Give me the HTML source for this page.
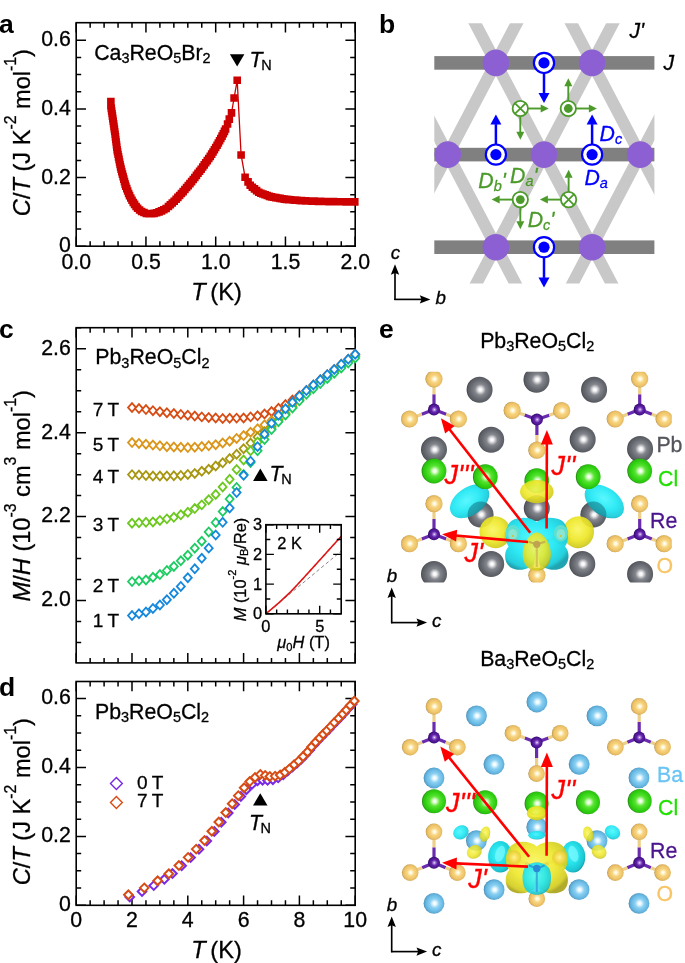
<!DOCTYPE html>
<html><head><meta charset="utf-8"><title>Figure</title>
<style>html,body{margin:0;padding:0;background:#fff}svg{display:block}text{font-family:"Liberation Sans",Arial,Helvetica,sans-serif}</style>
</head><body>
<svg width="685" height="963" viewBox="0 0 685 963">
<rect width="685" height="963" fill="#fff"/>
<g id="panelA">
<clipPath id="clipA"><rect x="76.2" y="22.7" width="285" height="223.5"/></clipPath>
<rect x="76.2" y="22.7" width="279" height="223.5" fill="none" stroke="#000" stroke-width="1.6"/>
<path d="M76.2 246.2v-9.8M76.2 22.7v9.8M145.95 246.2v-9.8M145.95 22.7v9.8M215.7 246.2v-9.8M215.7 22.7v9.8M285.45 246.2v-9.8M285.45 22.7v9.8M355.2 246.2v-9.8M355.2 22.7v9.8M90.15 246.2v-5M90.15 22.7v5M104.1 246.2v-5M104.1 22.7v5M118.05 246.2v-5M118.05 22.7v5M132 246.2v-5M132 22.7v5M159.9 246.2v-5M159.9 22.7v5M173.85 246.2v-5M173.85 22.7v5M187.8 246.2v-5M187.8 22.7v5M201.75 246.2v-5M201.75 22.7v5M229.65 246.2v-5M229.65 22.7v5M243.6 246.2v-5M243.6 22.7v5M257.55 246.2v-5M257.55 22.7v5M271.5 246.2v-5M271.5 22.7v5M299.4 246.2v-5M299.4 22.7v5M313.35 246.2v-5M313.35 22.7v5M327.3 246.2v-5M327.3 22.7v5M341.25 246.2v-5M341.25 22.7v5M76.2 246.2h9.8M355.2 246.2h-9.8M76.2 177.54h9.8M355.2 177.54h-9.8M76.2 108.88h9.8M355.2 108.88h-9.8M76.2 40.22h9.8M355.2 40.22h-9.8M76.2 229.03h5M355.2 229.03h-5M76.2 211.87h5M355.2 211.87h-5M76.2 194.7h5M355.2 194.7h-5M76.2 160.38h5M355.2 160.38h-5M76.2 143.21h5M355.2 143.21h-5M76.2 126.04h5M355.2 126.04h-5M76.2 91.71h5M355.2 91.71h-5M76.2 74.55h5M355.2 74.55h-5M76.2 57.38h5M355.2 57.38h-5" stroke="#000" stroke-width="1.5" fill="none"/>
<path d="M110.89 101.5 L110.89 105.79 L111.28 108.36 L111.66 110.93 L112.05 113.5 L112.43 116.08 L112.81 118.65 L113.2 121.22 L113.58 123.79 L113.97 126.36 L114.35 128.93 L114.73 131.51 L115.12 134.28 L115.46 136.85 L115.8 139.43 L116.13 142.01 L116.47 144.59 L116.81 147.17 L117.15 149.74 L117.53 151.76 L118.04 154.31 L118.55 156.86 L119.06 159.41 L119.57 161.96 L120.08 164.51 L120.59 167.05 L121.11 169.09 L121.78 171.6 L122.45 174.11 L123.13 176.62 L123.8 179.14 L124.48 181.65 L125.15 184.16 L125.82 186.2 L126.75 188.63 L127.68 191.06 L128.61 193.48 L129.54 195.66 L130.78 197.95 L132.02 200.23 L133.25 202.52 L134.58 204.38 L136.11 206.49 L137.63 208.28 L139.59 209.99 L141.56 211.54 L143.95 212.56 L146.34 213.46 L148.92 213.74 L151.51 213.78 L154.07 213.35 L156.63 212.73 L159.07 211.83 L161.51 210.9 L163.82 209.7 L166.12 208.5 L168.43 206.46 L170.35 204.71 L172.27 202.96 L174.19 201.21 L176.12 199.26 L177.87 197.34 L179.63 195.43 L181.39 193.51 L183.15 191.6 L184.91 189.56 L186.58 187.57 L188.25 185.58 L189.92 183.59 L191.59 181.59 L193.26 179.52 L194.84 177.46 L196.42 175.39 L197.99 173.32 L199.57 171.26 L201.15 169.19 L202.73 167 L204.24 164.89 L205.76 162.77 L207.27 160.66 L208.78 158.55 L210.3 156.39 L211.66 154.17 L213.02 151.96 L214.38 149.74 L215.73 147.52 L217.09 145.31 L218.33 143.02 L219.57 140.73 L220.81 138.44 L222.05 136.16 L223.28 133.72 L224.45 131.39 L225.61 129.07 L227.56 123.99 L229.3 119.11 L231.51 112.9 L234.1 98 L237.2 80.21 L241.1 154.99 L245.11 177.2 L248.06 181.84 L250.2 185.19 L252.33 187.19 L254.47 188.89 L256.6 190.6 L258.74 192.31 L260.87 193.18 L263 193.97 L265.14 194.76 L267.27 195.55 L269.41 196.34 L271.54 196.85 L273.68 197.23 L275.81 197.61 L277.94 198 L280.08 198.38 L282.21 198.76 L284.35 199.14 L286.48 199.42 L288.62 199.6 L290.75 199.77 L292.89 199.95 L295.02 200.12 L297.15 200.3 L299.29 200.47 L301.42 200.65 L303.56 200.76 L305.69 200.85 L307.83 200.93 L309.96 201.01 L312.09 201.09 L314.23 201.17 L316.36 201.25 L318.5 201.33 L320.63 201.41 L322.77 201.45 L324.9 201.49 L327.03 201.54 L329.17 201.58 L331.3 201.62 L333.44 201.67 L335.57 201.71 L337.71 201.75 L339.84 201.77 L341.98 201.79 L344.11 201.81 L346.24 201.83 L348.38 201.85 L350.51 201.87 L352.65 201.89 L354.78 201.91" fill="none" stroke="#cc0000" stroke-width="1.3"/>
<path d="M107.09 97.7h7.6v7.6h-7.6zM107.09 101.99h7.6v7.6h-7.6zM107.48 104.56h7.6v7.6h-7.6zM107.86 107.13h7.6v7.6h-7.6zM108.25 109.7h7.6v7.6h-7.6zM108.63 112.28h7.6v7.6h-7.6zM109.01 114.85h7.6v7.6h-7.6zM109.4 117.42h7.6v7.6h-7.6zM109.78 119.99h7.6v7.6h-7.6zM110.17 122.56h7.6v7.6h-7.6zM110.55 125.13h7.6v7.6h-7.6zM110.93 127.71h7.6v7.6h-7.6zM111.32 130.48h7.6v7.6h-7.6zM111.66 133.05h7.6v7.6h-7.6zM112 135.63h7.6v7.6h-7.6zM112.33 138.21h7.6v7.6h-7.6zM112.67 140.79h7.6v7.6h-7.6zM113.01 143.37h7.6v7.6h-7.6zM113.35 145.94h7.6v7.6h-7.6zM113.73 147.96h7.6v7.6h-7.6zM114.24 150.51h7.6v7.6h-7.6zM114.75 153.06h7.6v7.6h-7.6zM115.26 155.61h7.6v7.6h-7.6zM115.77 158.16h7.6v7.6h-7.6zM116.28 160.71h7.6v7.6h-7.6zM116.79 163.25h7.6v7.6h-7.6zM117.31 165.29h7.6v7.6h-7.6zM117.98 167.8h7.6v7.6h-7.6zM118.65 170.31h7.6v7.6h-7.6zM119.33 172.82h7.6v7.6h-7.6zM120 175.34h7.6v7.6h-7.6zM120.68 177.85h7.6v7.6h-7.6zM121.35 180.36h7.6v7.6h-7.6zM122.02 182.4h7.6v7.6h-7.6zM122.95 184.83h7.6v7.6h-7.6zM123.88 187.26h7.6v7.6h-7.6zM124.81 189.68h7.6v7.6h-7.6zM125.74 191.86h7.6v7.6h-7.6zM126.98 194.15h7.6v7.6h-7.6zM128.22 196.43h7.6v7.6h-7.6zM129.45 198.72h7.6v7.6h-7.6zM130.78 200.58h7.6v7.6h-7.6zM132.31 202.69h7.6v7.6h-7.6zM133.83 204.48h7.6v7.6h-7.6zM135.79 206.19h7.6v7.6h-7.6zM137.76 207.74h7.6v7.6h-7.6zM140.15 208.76h7.6v7.6h-7.6zM142.54 209.66h7.6v7.6h-7.6zM145.12 209.94h7.6v7.6h-7.6zM147.71 209.98h7.6v7.6h-7.6zM150.27 209.55h7.6v7.6h-7.6zM152.83 208.93h7.6v7.6h-7.6zM155.27 208.03h7.6v7.6h-7.6zM157.71 207.1h7.6v7.6h-7.6zM160.02 205.9h7.6v7.6h-7.6zM162.32 204.7h7.6v7.6h-7.6zM164.63 202.66h7.6v7.6h-7.6zM166.55 200.91h7.6v7.6h-7.6zM168.47 199.16h7.6v7.6h-7.6zM170.39 197.41h7.6v7.6h-7.6zM172.32 195.46h7.6v7.6h-7.6zM174.07 193.54h7.6v7.6h-7.6zM175.83 191.63h7.6v7.6h-7.6zM177.59 189.71h7.6v7.6h-7.6zM179.35 187.8h7.6v7.6h-7.6zM181.11 185.76h7.6v7.6h-7.6zM182.78 183.77h7.6v7.6h-7.6zM184.45 181.78h7.6v7.6h-7.6zM186.12 179.79h7.6v7.6h-7.6zM187.79 177.79h7.6v7.6h-7.6zM189.46 175.72h7.6v7.6h-7.6zM191.04 173.66h7.6v7.6h-7.6zM192.62 171.59h7.6v7.6h-7.6zM194.19 169.52h7.6v7.6h-7.6zM195.77 167.46h7.6v7.6h-7.6zM197.35 165.39h7.6v7.6h-7.6zM198.93 163.2h7.6v7.6h-7.6zM200.44 161.09h7.6v7.6h-7.6zM201.96 158.97h7.6v7.6h-7.6zM203.47 156.86h7.6v7.6h-7.6zM204.98 154.75h7.6v7.6h-7.6zM206.5 152.59h7.6v7.6h-7.6zM207.86 150.37h7.6v7.6h-7.6zM209.22 148.16h7.6v7.6h-7.6zM210.58 145.94h7.6v7.6h-7.6zM211.93 143.72h7.6v7.6h-7.6zM213.29 141.51h7.6v7.6h-7.6zM214.53 139.22h7.6v7.6h-7.6zM215.77 136.93h7.6v7.6h-7.6zM217.01 134.64h7.6v7.6h-7.6zM218.25 132.36h7.6v7.6h-7.6zM219.48 129.92h7.6v7.6h-7.6zM220.65 127.59h7.6v7.6h-7.6zM221.81 125.27h7.6v7.6h-7.6zM223.76 120.19h7.6v7.6h-7.6zM225.5 115.31h7.6v7.6h-7.6zM227.71 109.1h7.6v7.6h-7.6zM230.3 94.2h7.6v7.6h-7.6zM233.4 76.41h7.6v7.6h-7.6zM237.3 151.19h7.6v7.6h-7.6zM241.31 173.4h7.6v7.6h-7.6zM244.26 178.04h7.6v7.6h-7.6zM246.4 181.39h7.6v7.6h-7.6zM248.53 183.39h7.6v7.6h-7.6zM250.67 185.09h7.6v7.6h-7.6zM252.8 186.8h7.6v7.6h-7.6zM254.94 188.51h7.6v7.6h-7.6zM257.07 189.38h7.6v7.6h-7.6zM259.2 190.17h7.6v7.6h-7.6zM261.34 190.96h7.6v7.6h-7.6zM263.47 191.75h7.6v7.6h-7.6zM265.61 192.54h7.6v7.6h-7.6zM267.74 193.05h7.6v7.6h-7.6zM269.88 193.43h7.6v7.6h-7.6zM272.01 193.81h7.6v7.6h-7.6zM274.14 194.2h7.6v7.6h-7.6zM276.28 194.58h7.6v7.6h-7.6zM278.41 194.96h7.6v7.6h-7.6zM280.55 195.34h7.6v7.6h-7.6zM282.68 195.62h7.6v7.6h-7.6zM284.82 195.8h7.6v7.6h-7.6zM286.95 195.97h7.6v7.6h-7.6zM289.09 196.15h7.6v7.6h-7.6zM291.22 196.32h7.6v7.6h-7.6zM293.35 196.5h7.6v7.6h-7.6zM295.49 196.67h7.6v7.6h-7.6zM297.62 196.85h7.6v7.6h-7.6zM299.76 196.96h7.6v7.6h-7.6zM301.89 197.05h7.6v7.6h-7.6zM304.03 197.13h7.6v7.6h-7.6zM306.16 197.21h7.6v7.6h-7.6zM308.29 197.29h7.6v7.6h-7.6zM310.43 197.37h7.6v7.6h-7.6zM312.56 197.45h7.6v7.6h-7.6zM314.7 197.53h7.6v7.6h-7.6zM316.83 197.61h7.6v7.6h-7.6zM318.97 197.65h7.6v7.6h-7.6zM321.1 197.69h7.6v7.6h-7.6zM323.23 197.74h7.6v7.6h-7.6zM325.37 197.78h7.6v7.6h-7.6zM327.5 197.82h7.6v7.6h-7.6zM329.64 197.87h7.6v7.6h-7.6zM331.77 197.91h7.6v7.6h-7.6zM333.91 197.95h7.6v7.6h-7.6zM336.04 197.97h7.6v7.6h-7.6zM338.18 197.99h7.6v7.6h-7.6zM340.31 198.01h7.6v7.6h-7.6zM342.44 198.03h7.6v7.6h-7.6zM344.58 198.05h7.6v7.6h-7.6zM346.71 198.07h7.6v7.6h-7.6zM348.85 198.09h7.6v7.6h-7.6zM350.98 198.11h7.6v7.6h-7.6z" fill="#cc0000"/>
<text x="76.2" y="268.6" font-size="21.3" text-anchor="middle" fill="#000"  stroke="#000" stroke-width="0.3" xml:space="preserve"><tspan>0.0</tspan></text>
<text x="145.95" y="268.6" font-size="21.3" text-anchor="middle" fill="#000"  stroke="#000" stroke-width="0.3" xml:space="preserve"><tspan>0.5</tspan></text>
<text x="215.7" y="268.6" font-size="21.3" text-anchor="middle" fill="#000"  stroke="#000" stroke-width="0.3" xml:space="preserve"><tspan>1.0</tspan></text>
<text x="285.45" y="268.6" font-size="21.3" text-anchor="middle" fill="#000"  stroke="#000" stroke-width="0.3" xml:space="preserve"><tspan>1.5</tspan></text>
<text x="355.2" y="268.6" font-size="21.3" text-anchor="middle" fill="#000"  stroke="#000" stroke-width="0.3" xml:space="preserve"><tspan>2.0</tspan></text>
<text x="70.8" y="252.2" font-size="21.3" text-anchor="end" fill="#000"  stroke="#000" stroke-width="0.3" xml:space="preserve"><tspan>0</tspan></text>
<text x="70.8" y="183.54" font-size="21.3" text-anchor="end" fill="#000"  stroke="#000" stroke-width="0.3" xml:space="preserve"><tspan>0.2</tspan></text>
<text x="70.8" y="114.88" font-size="21.3" text-anchor="end" fill="#000"  stroke="#000" stroke-width="0.3" xml:space="preserve"><tspan>0.4</tspan></text>
<text x="70.8" y="46.22" font-size="21.3" text-anchor="end" fill="#000"  stroke="#000" stroke-width="0.3" xml:space="preserve"><tspan>0.6</tspan></text>
<text x="216.5" y="300.2" font-size="23.6" text-anchor="middle" fill="#000"  stroke="#000" stroke-width="0.3" xml:space="preserve"><tspan font-style="italic">T</tspan><tspan> (K)</tspan></text>
<text x="0" y="0" transform="translate(29.7,132.6) rotate(-90)" font-size="23.6" text-anchor="middle" fill="#000"  stroke="#000" stroke-width="0.3" xml:space="preserve"><tspan font-style="italic">C</tspan><tspan>/</tspan><tspan font-style="italic">T</tspan><tspan> (J K</tspan><tspan font-size="15.81" dy="-13.69">-2</tspan><tspan dy="13.69"> mol</tspan><tspan font-size="15.81" dy="-13.69">-1</tspan><tspan dy="13.69">)</tspan></text>
<text x="94.2" y="59.9" font-size="21.3" text-anchor="start" fill="#000"  stroke="#000" stroke-width="0.3" xml:space="preserve"><tspan>Ca</tspan><tspan font-size="14.48" dy="3.41">3</tspan><tspan dy="-3.41">ReO</tspan><tspan font-size="14.48" dy="3.41">5</tspan><tspan dy="-3.41">Br</tspan><tspan font-size="14.48" dy="3.41">2</tspan></text>
<path d="M229.9 54.2h14.5l-7.25 12.3z" fill="#000"/>
<text x="249.6" y="66.8" font-size="21.3" text-anchor="start" fill="#000"  stroke="#000" stroke-width="0.3" xml:space="preserve"><tspan font-style="italic">T</tspan><tspan dx="-1.3" font-size="14.48" dy="3.41">N</tspan></text>
<text x="-1.1" y="32.8" font-size="26.5" text-anchor="start" fill="#000" font-weight="bold"  xml:space="preserve"><tspan>a</tspan></text>
</g>
<g id="panelB">
<clipPath id="clipB"><rect x="434.3" y="23.3" width="220.1" height="260.3"/></clipPath>
<path d="M176.04 3.3L333.56 303.6M334.76 3.3L177.24 303.6M272.24 3.3L429.76 303.6M430.96 3.3L273.44 303.6M368.44 3.3L525.96 303.6M527.16 3.3L369.64 303.6M464.64 3.3L622.16 303.6M623.36 3.3L465.84 303.6M560.84 3.3L718.36 303.6M719.56 3.3L562.04 303.6M657.04 3.3L814.56 303.6M815.76 3.3L658.24 303.6M753.24 3.3L910.76 303.6M911.96 3.3L754.44 303.6" stroke="#c8c8c8" stroke-width="12" fill="none" clip-path="url(#clipB)"/>
<rect x="434.3" y="56.1" width="220.1" height="13.6" fill="#808080"/>
<rect x="434.3" y="147.8" width="220.1" height="13.6" fill="#808080"/>
<rect x="434.3" y="240.4" width="220.1" height="13.6" fill="#808080"/>
<circle cx="495.9" cy="62.9" r="13.3" fill="#8c5fd2"/>
<circle cx="592.1" cy="62.9" r="13.3" fill="#8c5fd2"/>
<circle cx="447.8" cy="154.6" r="13.3" fill="#8c5fd2"/>
<circle cx="544" cy="154.6" r="13.3" fill="#8c5fd2"/>
<circle cx="640.2" cy="154.6" r="13.3" fill="#8c5fd2"/>
<circle cx="495.9" cy="247.2" r="13.3" fill="#8c5fd2"/>
<circle cx="592.1" cy="247.2" r="13.3" fill="#8c5fd2"/>
<path d="M544 62.9L544 93.6" stroke="#0000ff" stroke-width="2.5" fill="none"/>
<path d="M544 103.1L538.5 93.1L549.5 93.1z" fill="#0000ff"/>
<circle cx="544" cy="62.9" r="10.1" fill="#fff" stroke="#0000ff" stroke-width="2.2"/>
<circle cx="544" cy="62.9" r="5.6" fill="#0000ff"/>
<path d="M495.9 154.6L495.9 124.1" stroke="#0000ff" stroke-width="2.5" fill="none"/>
<path d="M495.9 114.6L501.4 124.6L490.4 124.6z" fill="#0000ff"/>
<circle cx="495.9" cy="154.6" r="10.1" fill="#fff" stroke="#0000ff" stroke-width="2.2"/>
<circle cx="495.9" cy="154.6" r="5.6" fill="#0000ff"/>
<path d="M592.1 154.6L592.1 124.1" stroke="#0000ff" stroke-width="2.5" fill="none"/>
<path d="M592.1 114.6L597.6 124.6L586.6 124.6z" fill="#0000ff"/>
<circle cx="592.1" cy="154.6" r="10.1" fill="#fff" stroke="#0000ff" stroke-width="2.2"/>
<circle cx="592.1" cy="154.6" r="5.6" fill="#0000ff"/>
<path d="M544 247.2L544 277.9" stroke="#0000ff" stroke-width="2.5" fill="none"/>
<path d="M544 287.4L538.5 277.4L549.5 277.4z" fill="#0000ff"/>
<circle cx="544" cy="247.2" r="10.1" fill="#fff" stroke="#0000ff" stroke-width="2.2"/>
<circle cx="544" cy="247.2" r="5.6" fill="#0000ff"/>
<path d="M520.3 108.5L541.2 108.5" stroke="#4c9a2a" stroke-width="1.9" fill="none"/>
<path d="M548.7 108.5L540.7 112.5L540.7 104.5z" fill="#4c9a2a"/>
<path d="M520.3 108.5L520.3 132.2" stroke="#4c9a2a" stroke-width="1.9" fill="none"/>
<path d="M520.3 139.7L516.3 131.7L524.3 131.7z" fill="#4c9a2a"/>
<circle cx="520.3" cy="108.5" r="7.7" fill="#fff" stroke="#4c9a2a" stroke-width="1.8"/>
<path d="M514.86 103.06L525.74 113.94M514.86 113.94L525.74 103.06" stroke="#4c9a2a" stroke-width="1.8"/>
<path d="M568.3 108.5L589.4 108.5" stroke="#4c9a2a" stroke-width="1.9" fill="none"/>
<path d="M596.9 108.5L588.9 112.5L588.9 104.5z" fill="#4c9a2a"/>
<path d="M568.3 108.5L568.3 85.8" stroke="#4c9a2a" stroke-width="1.9" fill="none"/>
<path d="M568.3 78.3L572.3 86.3L564.3 86.3z" fill="#4c9a2a"/>
<circle cx="568.3" cy="108.5" r="7.7" fill="#fff" stroke="#4c9a2a" stroke-width="1.8"/>
<circle cx="568.3" cy="108.5" r="4.4" fill="#4c9a2a"/>
<path d="M520.3 199.6L499.1 199.6" stroke="#4c9a2a" stroke-width="1.9" fill="none"/>
<path d="M491.6 199.6L499.6 195.6L499.6 203.6z" fill="#4c9a2a"/>
<path d="M520.3 199.6L520.3 221.8" stroke="#4c9a2a" stroke-width="1.9" fill="none"/>
<path d="M520.3 229.3L516.3 221.3L524.3 221.3z" fill="#4c9a2a"/>
<circle cx="520.3" cy="199.6" r="7.7" fill="#fff" stroke="#4c9a2a" stroke-width="1.8"/>
<circle cx="520.3" cy="199.6" r="4.4" fill="#4c9a2a"/>
<path d="M568.6 199.6L547.4 199.6" stroke="#4c9a2a" stroke-width="1.9" fill="none"/>
<path d="M539.9 199.6L547.9 195.6L547.9 203.6z" fill="#4c9a2a"/>
<path d="M568.6 199.6L568.6 177.3" stroke="#4c9a2a" stroke-width="1.9" fill="none"/>
<path d="M568.6 169.8L572.6 177.8L564.6 177.8z" fill="#4c9a2a"/>
<circle cx="568.6" cy="199.6" r="7.7" fill="#fff" stroke="#4c9a2a" stroke-width="1.8"/>
<path d="M563.16 194.16L574.04 205.04M563.16 205.04L574.04 194.16" stroke="#4c9a2a" stroke-width="1.8"/>
<text x="599.6" y="140.5" font-size="21.3" text-anchor="start" fill="#0000ff"  stroke="#0000ff" stroke-width="0.3" xml:space="preserve"><tspan font-style="italic">D</tspan><tspan font-style="italic" font-size="14.48" dy="3.41">c</tspan></text>
<text x="584.4" y="184.5" font-size="21.3" text-anchor="start" fill="#0000ff"  stroke="#0000ff" stroke-width="0.3" xml:space="preserve"><tspan font-style="italic">D</tspan><tspan font-style="italic" font-size="14.48" dy="3.41">a</tspan></text>
<text x="478.3" y="188" font-size="21.3" text-anchor="start" fill="#4c9a2a"  stroke="#4c9a2a" stroke-width="0.3" xml:space="preserve"><tspan font-style="italic">D</tspan><tspan font-style="italic" font-size="14.48" dy="3.41">b</tspan><tspan font-style="italic" dy="-3.41">'</tspan></text>
<text x="510.1" y="182.7" font-size="21.3" text-anchor="start" fill="#4c9a2a"  stroke="#4c9a2a" stroke-width="0.3" xml:space="preserve"><tspan font-style="italic">D</tspan><tspan font-style="italic" font-size="14.48" dy="3.41">a</tspan><tspan font-style="italic" dy="-3.41">'</tspan></text>
<text x="527.7" y="226.9" font-size="21.3" text-anchor="start" fill="#4c9a2a"  stroke="#4c9a2a" stroke-width="0.3" xml:space="preserve"><tspan font-style="italic">D</tspan><tspan font-style="italic" font-size="14.48" dy="3.41">c</tspan><tspan font-style="italic" dy="-3.41">'</tspan></text>
<text x="629.4" y="38" font-size="21.3" text-anchor="start" fill="#000"  stroke="#000" stroke-width="0.3" xml:space="preserve"><tspan font-style="italic">J'</tspan></text>
<text x="663.4" y="69.6" font-size="21.3" text-anchor="start" fill="#000"  stroke="#000" stroke-width="0.3" xml:space="preserve"><tspan font-style="italic">J</tspan></text>
<path d="M395 300.1L395 270.2" stroke="#000" stroke-width="1.65" fill="none"/>
<path d="M395 264.2L399.2 274.8L395 273.1L390.8 274.8z" fill="#000"/>
<path d="M394.3 299.4L424.4 299.4" stroke="#000" stroke-width="1.65" fill="none"/>
<path d="M430.4 299.4L419.8 303.6L421.5 299.4L419.8 295.2z" fill="#000"/>
<text x="395.4" y="259" font-size="18.8" text-anchor="middle" fill="#000"  stroke="#000" stroke-width="0.3" xml:space="preserve"><tspan font-style="italic">c</tspan></text>
<text x="435.4" y="304" font-size="18.8" text-anchor="start" fill="#000"  stroke="#000" stroke-width="0.3" xml:space="preserve"><tspan font-style="italic">b</tspan></text>
<text x="379" y="33.1" font-size="26.5" text-anchor="start" fill="#000" font-weight="bold"  xml:space="preserve"><tspan>b</tspan></text>
</g>
<g id="panelC">
<rect x="76.2" y="327.7" width="279" height="335.2" fill="none" stroke="#000" stroke-width="1.6"/>
<path d="M76.2 662.9v-9.8M76.2 327.7v9.8M132 662.9v-9.8M132 327.7v9.8M187.8 662.9v-9.8M187.8 327.7v9.8M243.6 662.9v-9.8M243.6 327.7v9.8M299.4 662.9v-9.8M299.4 327.7v9.8M355.2 662.9v-9.8M355.2 327.7v9.8M90.15 662.9v-5M90.15 327.7v5M104.1 662.9v-5M104.1 327.7v5M118.05 662.9v-5M118.05 327.7v5M145.95 662.9v-5M145.95 327.7v5M159.9 662.9v-5M159.9 327.7v5M173.85 662.9v-5M173.85 327.7v5M201.75 662.9v-5M201.75 327.7v5M215.7 662.9v-5M215.7 327.7v5M229.65 662.9v-5M229.65 327.7v5M257.55 662.9v-5M257.55 327.7v5M271.5 662.9v-5M271.5 327.7v5M285.45 662.9v-5M285.45 327.7v5M313.35 662.9v-5M313.35 327.7v5M327.3 662.9v-5M327.3 327.7v5M341.25 662.9v-5M341.25 327.7v5M76.2 600.5h9.8M355.2 600.5h-9.8M76.2 516.6h9.8M355.2 516.6h-9.8M76.2 432.7h9.8M355.2 432.7h-9.8M76.2 348.8h9.8M355.2 348.8h-9.8M76.2 642.45h5M355.2 642.45h-5M76.2 621.47h5M355.2 621.47h-5M76.2 579.52h5M355.2 579.52h-5M76.2 558.55h5M355.2 558.55h-5M76.2 537.57h5M355.2 537.57h-5M76.2 495.62h5M355.2 495.62h-5M76.2 474.65h5M355.2 474.65h-5M76.2 453.67h5M355.2 453.67h-5M76.2 411.72h5M355.2 411.72h-5M76.2 390.75h5M355.2 390.75h-5M76.2 369.77h5M355.2 369.77h-5M76.2 327.82h5M355.2 327.82h-5" stroke="#000" stroke-width="1.5" fill="none"/>
<path d="M128 407.52l4 -4.4l4 4.4l-4 4.4z" fill="#fff" stroke="#d74c14" stroke-width="1.8" stroke-linejoin="miter"/>
<path d="M134.97 408.56l4 -4.4l4 4.4l-4 4.4z" fill="#fff" stroke="#d74c14" stroke-width="1.8" stroke-linejoin="miter"/>
<path d="M141.95 409.6l4 -4.4l4 4.4l-4 4.4z" fill="#fff" stroke="#d74c14" stroke-width="1.8" stroke-linejoin="miter"/>
<path d="M148.93 410.64l4 -4.4l4 4.4l-4 4.4z" fill="#fff" stroke="#d74c14" stroke-width="1.8" stroke-linejoin="miter"/>
<path d="M155.9 411.68l4 -4.4l4 4.4l-4 4.4z" fill="#fff" stroke="#d74c14" stroke-width="1.8" stroke-linejoin="miter"/>
<path d="M162.88 412.72l4 -4.4l4 4.4l-4 4.4z" fill="#fff" stroke="#d74c14" stroke-width="1.8" stroke-linejoin="miter"/>
<path d="M169.85 413.55l4 -4.4l4 4.4l-4 4.4z" fill="#fff" stroke="#d74c14" stroke-width="1.8" stroke-linejoin="miter"/>
<path d="M176.82 414.38l4 -4.4l4 4.4l-4 4.4z" fill="#fff" stroke="#d74c14" stroke-width="1.8" stroke-linejoin="miter"/>
<path d="M183.8 415.22l4 -4.4l4 4.4l-4 4.4z" fill="#fff" stroke="#d74c14" stroke-width="1.8" stroke-linejoin="miter"/>
<path d="M190.77 416.05l4 -4.4l4 4.4l-4 4.4z" fill="#fff" stroke="#d74c14" stroke-width="1.8" stroke-linejoin="miter"/>
<path d="M197.75 416.88l4 -4.4l4 4.4l-4 4.4z" fill="#fff" stroke="#d74c14" stroke-width="1.8" stroke-linejoin="miter"/>
<path d="M204.73 417.42l4 -4.4l4 4.4l-4 4.4z" fill="#fff" stroke="#d74c14" stroke-width="1.8" stroke-linejoin="miter"/>
<path d="M211.7 417.97l4 -4.4l4 4.4l-4 4.4z" fill="#fff" stroke="#d74c14" stroke-width="1.8" stroke-linejoin="miter"/>
<path d="M218.68 418.51l4 -4.4l4 4.4l-4 4.4z" fill="#fff" stroke="#d74c14" stroke-width="1.8" stroke-linejoin="miter"/>
<path d="M225.65 418.31l4 -4.4l4 4.4l-4 4.4z" fill="#fff" stroke="#d74c14" stroke-width="1.8" stroke-linejoin="miter"/>
<path d="M232.62 418.12l4 -4.4l4 4.4l-4 4.4z" fill="#fff" stroke="#d74c14" stroke-width="1.8" stroke-linejoin="miter"/>
<path d="M239.6 417.92l4 -4.4l4 4.4l-4 4.4z" fill="#fff" stroke="#d74c14" stroke-width="1.8" stroke-linejoin="miter"/>
<path d="M246.57 416.88l4 -4.4l4 4.4l-4 4.4z" fill="#fff" stroke="#d74c14" stroke-width="1.8" stroke-linejoin="miter"/>
<path d="M253.55 415.84l4 -4.4l4 4.4l-4 4.4z" fill="#fff" stroke="#d74c14" stroke-width="1.8" stroke-linejoin="miter"/>
<path d="M260.52 413.96l4 -4.4l4 4.4l-4 4.4z" fill="#fff" stroke="#d74c14" stroke-width="1.8" stroke-linejoin="miter"/>
<path d="M267.5 411.52l4 -4.4l4 4.4l-4 4.4z" fill="#fff" stroke="#d74c14" stroke-width="1.8" stroke-linejoin="miter"/>
<path d="M274.47 408.36l4 -4.4l4 4.4l-4 4.4z" fill="#fff" stroke="#d74c14" stroke-width="1.8" stroke-linejoin="miter"/>
<path d="M281.45 404.61l4 -4.4l4 4.4l-4 4.4z" fill="#fff" stroke="#d74c14" stroke-width="1.8" stroke-linejoin="miter"/>
<path d="M288.43 400.04l4 -4.4l4 4.4l-4 4.4z" fill="#fff" stroke="#d74c14" stroke-width="1.8" stroke-linejoin="miter"/>
<path d="M295.4 395.46l4 -4.4l4 4.4l-4 4.4z" fill="#fff" stroke="#d74c14" stroke-width="1.8" stroke-linejoin="miter"/>
<path d="M302.38 390.61l4 -4.4l4 4.4l-4 4.4z" fill="#fff" stroke="#d74c14" stroke-width="1.8" stroke-linejoin="miter"/>
<path d="M309.35 385.06l4 -4.4l4 4.4l-4 4.4z" fill="#fff" stroke="#d74c14" stroke-width="1.8" stroke-linejoin="miter"/>
<path d="M316.32 379.86l4 -4.4l4 4.4l-4 4.4z" fill="#fff" stroke="#d74c14" stroke-width="1.8" stroke-linejoin="miter"/>
<path d="M323.3 374.66l4 -4.4l4 4.4l-4 4.4z" fill="#fff" stroke="#d74c14" stroke-width="1.8" stroke-linejoin="miter"/>
<path d="M330.27 369.46l4 -4.4l4 4.4l-4 4.4z" fill="#fff" stroke="#d74c14" stroke-width="1.8" stroke-linejoin="miter"/>
<path d="M337.25 364.26l4 -4.4l4 4.4l-4 4.4z" fill="#fff" stroke="#d74c14" stroke-width="1.8" stroke-linejoin="miter"/>
<path d="M344.22 359.27l4 -4.4l4 4.4l-4 4.4z" fill="#fff" stroke="#d74c14" stroke-width="1.8" stroke-linejoin="miter"/>
<path d="M351.2 354.28l4 -4.4l4 4.4l-4 4.4z" fill="#fff" stroke="#d74c14" stroke-width="1.8" stroke-linejoin="miter"/>
<path d="M128 442.59l4 -4.4l4 4.4l-4 4.4z" fill="#fff" stroke="#db961a" stroke-width="1.8" stroke-linejoin="miter"/>
<path d="M134.97 443.41l4 -4.4l4 4.4l-4 4.4z" fill="#fff" stroke="#db961a" stroke-width="1.8" stroke-linejoin="miter"/>
<path d="M141.95 444.22l4 -4.4l4 4.4l-4 4.4z" fill="#fff" stroke="#db961a" stroke-width="1.8" stroke-linejoin="miter"/>
<path d="M148.93 445.03l4 -4.4l4 4.4l-4 4.4z" fill="#fff" stroke="#db961a" stroke-width="1.8" stroke-linejoin="miter"/>
<path d="M155.9 445.85l4 -4.4l4 4.4l-4 4.4z" fill="#fff" stroke="#db961a" stroke-width="1.8" stroke-linejoin="miter"/>
<path d="M162.88 446.64l4 -4.4l4 4.4l-4 4.4z" fill="#fff" stroke="#db961a" stroke-width="1.8" stroke-linejoin="miter"/>
<path d="M169.85 446.96l4 -4.4l4 4.4l-4 4.4z" fill="#fff" stroke="#db961a" stroke-width="1.8" stroke-linejoin="miter"/>
<path d="M176.82 447.28l4 -4.4l4 4.4l-4 4.4z" fill="#fff" stroke="#db961a" stroke-width="1.8" stroke-linejoin="miter"/>
<path d="M183.8 447.61l4 -4.4l4 4.4l-4 4.4z" fill="#fff" stroke="#db961a" stroke-width="1.8" stroke-linejoin="miter"/>
<path d="M190.77 447.23l4 -4.4l4 4.4l-4 4.4z" fill="#fff" stroke="#db961a" stroke-width="1.8" stroke-linejoin="miter"/>
<path d="M197.75 446.52l4 -4.4l4 4.4l-4 4.4z" fill="#fff" stroke="#db961a" stroke-width="1.8" stroke-linejoin="miter"/>
<path d="M204.73 445.81l4 -4.4l4 4.4l-4 4.4z" fill="#fff" stroke="#db961a" stroke-width="1.8" stroke-linejoin="miter"/>
<path d="M211.7 444.69l4 -4.4l4 4.4l-4 4.4z" fill="#fff" stroke="#db961a" stroke-width="1.8" stroke-linejoin="miter"/>
<path d="M218.68 442.95l4 -4.4l4 4.4l-4 4.4z" fill="#fff" stroke="#db961a" stroke-width="1.8" stroke-linejoin="miter"/>
<path d="M225.65 441.22l4 -4.4l4 4.4l-4 4.4z" fill="#fff" stroke="#db961a" stroke-width="1.8" stroke-linejoin="miter"/>
<path d="M232.62 438.41l4 -4.4l4 4.4l-4 4.4z" fill="#fff" stroke="#db961a" stroke-width="1.8" stroke-linejoin="miter"/>
<path d="M239.6 435.6l4 -4.4l4 4.4l-4 4.4z" fill="#fff" stroke="#db961a" stroke-width="1.8" stroke-linejoin="miter"/>
<path d="M246.57 432.17l4 -4.4l4 4.4l-4 4.4z" fill="#fff" stroke="#db961a" stroke-width="1.8" stroke-linejoin="miter"/>
<path d="M253.55 428.74l4 -4.4l4 4.4l-4 4.4z" fill="#fff" stroke="#db961a" stroke-width="1.8" stroke-linejoin="miter"/>
<path d="M260.52 424.78l4 -4.4l4 4.4l-4 4.4z" fill="#fff" stroke="#db961a" stroke-width="1.8" stroke-linejoin="miter"/>
<path d="M267.5 420.57l4 -4.4l4 4.4l-4 4.4z" fill="#fff" stroke="#db961a" stroke-width="1.8" stroke-linejoin="miter"/>
<path d="M274.47 415.84l4 -4.4l4 4.4l-4 4.4z" fill="#fff" stroke="#db961a" stroke-width="1.8" stroke-linejoin="miter"/>
<path d="M281.45 410.02l4 -4.4l4 4.4l-4 4.4z" fill="#fff" stroke="#db961a" stroke-width="1.8" stroke-linejoin="miter"/>
<path d="M288.43 403.78l4 -4.4l4 4.4l-4 4.4z" fill="#fff" stroke="#db961a" stroke-width="1.8" stroke-linejoin="miter"/>
<path d="M295.4 397.12l4 -4.4l4 4.4l-4 4.4z" fill="#fff" stroke="#db961a" stroke-width="1.8" stroke-linejoin="miter"/>
<path d="M302.38 391.44l4 -4.4l4 4.4l-4 4.4z" fill="#fff" stroke="#db961a" stroke-width="1.8" stroke-linejoin="miter"/>
<path d="M309.35 385.89l4 -4.4l4 4.4l-4 4.4z" fill="#fff" stroke="#db961a" stroke-width="1.8" stroke-linejoin="miter"/>
<path d="M316.32 380.69l4 -4.4l4 4.4l-4 4.4z" fill="#fff" stroke="#db961a" stroke-width="1.8" stroke-linejoin="miter"/>
<path d="M323.3 375.49l4 -4.4l4 4.4l-4 4.4z" fill="#fff" stroke="#db961a" stroke-width="1.8" stroke-linejoin="miter"/>
<path d="M330.27 370.29l4 -4.4l4 4.4l-4 4.4z" fill="#fff" stroke="#db961a" stroke-width="1.8" stroke-linejoin="miter"/>
<path d="M337.25 365.09l4 -4.4l4 4.4l-4 4.4z" fill="#fff" stroke="#db961a" stroke-width="1.8" stroke-linejoin="miter"/>
<path d="M344.22 360.1l4 -4.4l4 4.4l-4 4.4z" fill="#fff" stroke="#db961a" stroke-width="1.8" stroke-linejoin="miter"/>
<path d="M351.2 355.11l4 -4.4l4 4.4l-4 4.4z" fill="#fff" stroke="#db961a" stroke-width="1.8" stroke-linejoin="miter"/>
<path d="M128 474.62l4 -4.4l4 4.4l-4 4.4z" fill="#fff" stroke="#a69610" stroke-width="1.8" stroke-linejoin="miter"/>
<path d="M134.97 475.09l4 -4.4l4 4.4l-4 4.4z" fill="#fff" stroke="#a69610" stroke-width="1.8" stroke-linejoin="miter"/>
<path d="M141.95 475.56l4 -4.4l4 4.4l-4 4.4z" fill="#fff" stroke="#a69610" stroke-width="1.8" stroke-linejoin="miter"/>
<path d="M148.93 476.03l4 -4.4l4 4.4l-4 4.4z" fill="#fff" stroke="#a69610" stroke-width="1.8" stroke-linejoin="miter"/>
<path d="M155.9 476.07l4 -4.4l4 4.4l-4 4.4z" fill="#fff" stroke="#a69610" stroke-width="1.8" stroke-linejoin="miter"/>
<path d="M162.88 475.95l4 -4.4l4 4.4l-4 4.4z" fill="#fff" stroke="#a69610" stroke-width="1.8" stroke-linejoin="miter"/>
<path d="M169.85 475.83l4 -4.4l4 4.4l-4 4.4z" fill="#fff" stroke="#a69610" stroke-width="1.8" stroke-linejoin="miter"/>
<path d="M176.82 475.39l4 -4.4l4 4.4l-4 4.4z" fill="#fff" stroke="#a69610" stroke-width="1.8" stroke-linejoin="miter"/>
<path d="M183.8 474.41l4 -4.4l4 4.4l-4 4.4z" fill="#fff" stroke="#a69610" stroke-width="1.8" stroke-linejoin="miter"/>
<path d="M190.77 473.42l4 -4.4l4 4.4l-4 4.4z" fill="#fff" stroke="#a69610" stroke-width="1.8" stroke-linejoin="miter"/>
<path d="M197.75 471.32l4 -4.4l4 4.4l-4 4.4z" fill="#fff" stroke="#a69610" stroke-width="1.8" stroke-linejoin="miter"/>
<path d="M204.73 469.22l4 -4.4l4 4.4l-4 4.4z" fill="#fff" stroke="#a69610" stroke-width="1.8" stroke-linejoin="miter"/>
<path d="M211.7 466.03l4 -4.4l4 4.4l-4 4.4z" fill="#fff" stroke="#a69610" stroke-width="1.8" stroke-linejoin="miter"/>
<path d="M218.68 462.85l4 -4.4l4 4.4l-4 4.4z" fill="#fff" stroke="#a69610" stroke-width="1.8" stroke-linejoin="miter"/>
<path d="M225.65 458.57l4 -4.4l4 4.4l-4 4.4z" fill="#fff" stroke="#a69610" stroke-width="1.8" stroke-linejoin="miter"/>
<path d="M232.62 454.28l4 -4.4l4 4.4l-4 4.4z" fill="#fff" stroke="#a69610" stroke-width="1.8" stroke-linejoin="miter"/>
<path d="M239.6 448.69l4 -4.4l4 4.4l-4 4.4z" fill="#fff" stroke="#a69610" stroke-width="1.8" stroke-linejoin="miter"/>
<path d="M246.57 443.09l4 -4.4l4 4.4l-4 4.4z" fill="#fff" stroke="#a69610" stroke-width="1.8" stroke-linejoin="miter"/>
<path d="M253.55 437.06l4 -4.4l4 4.4l-4 4.4z" fill="#fff" stroke="#a69610" stroke-width="1.8" stroke-linejoin="miter"/>
<path d="M260.52 431.62l4 -4.4l4 4.4l-4 4.4z" fill="#fff" stroke="#a69610" stroke-width="1.8" stroke-linejoin="miter"/>
<path d="M267.5 426.24l4 -4.4l4 4.4l-4 4.4z" fill="#fff" stroke="#a69610" stroke-width="1.8" stroke-linejoin="miter"/>
<path d="M274.47 419.59l4 -4.4l4 4.4l-4 4.4z" fill="#fff" stroke="#a69610" stroke-width="1.8" stroke-linejoin="miter"/>
<path d="M281.45 413.35l4 -4.4l4 4.4l-4 4.4z" fill="#fff" stroke="#a69610" stroke-width="1.8" stroke-linejoin="miter"/>
<path d="M288.43 406.28l4 -4.4l4 4.4l-4 4.4z" fill="#fff" stroke="#a69610" stroke-width="1.8" stroke-linejoin="miter"/>
<path d="M295.4 399.2l4 -4.4l4 4.4l-4 4.4z" fill="#fff" stroke="#a69610" stroke-width="1.8" stroke-linejoin="miter"/>
<path d="M302.38 392.27l4 -4.4l4 4.4l-4 4.4z" fill="#fff" stroke="#a69610" stroke-width="1.8" stroke-linejoin="miter"/>
<path d="M309.35 386.72l4 -4.4l4 4.4l-4 4.4z" fill="#fff" stroke="#a69610" stroke-width="1.8" stroke-linejoin="miter"/>
<path d="M316.32 381.52l4 -4.4l4 4.4l-4 4.4z" fill="#fff" stroke="#a69610" stroke-width="1.8" stroke-linejoin="miter"/>
<path d="M323.3 376.32l4 -4.4l4 4.4l-4 4.4z" fill="#fff" stroke="#a69610" stroke-width="1.8" stroke-linejoin="miter"/>
<path d="M330.27 371.12l4 -4.4l4 4.4l-4 4.4z" fill="#fff" stroke="#a69610" stroke-width="1.8" stroke-linejoin="miter"/>
<path d="M337.25 365.92l4 -4.4l4 4.4l-4 4.4z" fill="#fff" stroke="#a69610" stroke-width="1.8" stroke-linejoin="miter"/>
<path d="M344.22 360.93l4 -4.4l4 4.4l-4 4.4z" fill="#fff" stroke="#a69610" stroke-width="1.8" stroke-linejoin="miter"/>
<path d="M351.2 355.94l4 -4.4l4 4.4l-4 4.4z" fill="#fff" stroke="#a69610" stroke-width="1.8" stroke-linejoin="miter"/>
<path d="M128 523.17l4 -4.4l4 4.4l-4 4.4z" fill="#fff" stroke="#6cc81e" stroke-width="1.8" stroke-linejoin="miter"/>
<path d="M134.97 522.76l4 -4.4l4 4.4l-4 4.4z" fill="#fff" stroke="#6cc81e" stroke-width="1.8" stroke-linejoin="miter"/>
<path d="M141.95 522.34l4 -4.4l4 4.4l-4 4.4z" fill="#fff" stroke="#6cc81e" stroke-width="1.8" stroke-linejoin="miter"/>
<path d="M148.93 521.92l4 -4.4l4 4.4l-4 4.4z" fill="#fff" stroke="#6cc81e" stroke-width="1.8" stroke-linejoin="miter"/>
<path d="M155.9 520.4l4 -4.4l4 4.4l-4 4.4z" fill="#fff" stroke="#6cc81e" stroke-width="1.8" stroke-linejoin="miter"/>
<path d="M162.88 518.87l4 -4.4l4 4.4l-4 4.4z" fill="#fff" stroke="#6cc81e" stroke-width="1.8" stroke-linejoin="miter"/>
<path d="M169.85 517.35l4 -4.4l4 4.4l-4 4.4z" fill="#fff" stroke="#6cc81e" stroke-width="1.8" stroke-linejoin="miter"/>
<path d="M176.82 514.85l4 -4.4l4 4.4l-4 4.4z" fill="#fff" stroke="#6cc81e" stroke-width="1.8" stroke-linejoin="miter"/>
<path d="M183.8 512.36l4 -4.4l4 4.4l-4 4.4z" fill="#fff" stroke="#6cc81e" stroke-width="1.8" stroke-linejoin="miter"/>
<path d="M190.77 508.61l4 -4.4l4 4.4l-4 4.4z" fill="#fff" stroke="#6cc81e" stroke-width="1.8" stroke-linejoin="miter"/>
<path d="M197.75 504.87l4 -4.4l4 4.4l-4 4.4z" fill="#fff" stroke="#6cc81e" stroke-width="1.8" stroke-linejoin="miter"/>
<path d="M204.73 499.67l4 -4.4l4 4.4l-4 4.4z" fill="#fff" stroke="#6cc81e" stroke-width="1.8" stroke-linejoin="miter"/>
<path d="M211.7 494.47l4 -4.4l4 4.4l-4 4.4z" fill="#fff" stroke="#6cc81e" stroke-width="1.8" stroke-linejoin="miter"/>
<path d="M218.68 486.98l4 -4.4l4 4.4l-4 4.4z" fill="#fff" stroke="#6cc81e" stroke-width="1.8" stroke-linejoin="miter"/>
<path d="M225.65 479.28l4 -4.4l4 4.4l-4 4.4z" fill="#fff" stroke="#6cc81e" stroke-width="1.8" stroke-linejoin="miter"/>
<path d="M232.62 469.51l4 -4.4l4 4.4l-4 4.4z" fill="#fff" stroke="#6cc81e" stroke-width="1.8" stroke-linejoin="miter"/>
<path d="M239.6 459.94l4 -4.4l4 4.4l-4 4.4z" fill="#fff" stroke="#6cc81e" stroke-width="1.8" stroke-linejoin="miter"/>
<path d="M246.57 450.79l4 -4.4l4 4.4l-4 4.4z" fill="#fff" stroke="#6cc81e" stroke-width="1.8" stroke-linejoin="miter"/>
<path d="M253.55 442.05l4 -4.4l4 4.4l-4 4.4z" fill="#fff" stroke="#6cc81e" stroke-width="1.8" stroke-linejoin="miter"/>
<path d="M260.52 435.65l4 -4.4l4 4.4l-4 4.4z" fill="#fff" stroke="#6cc81e" stroke-width="1.8" stroke-linejoin="miter"/>
<path d="M267.5 427.91l4 -4.4l4 4.4l-4 4.4z" fill="#fff" stroke="#6cc81e" stroke-width="1.8" stroke-linejoin="miter"/>
<path d="M274.47 420.84l4 -4.4l4 4.4l-4 4.4z" fill="#fff" stroke="#6cc81e" stroke-width="1.8" stroke-linejoin="miter"/>
<path d="M281.45 414.6l4 -4.4l4 4.4l-4 4.4z" fill="#fff" stroke="#6cc81e" stroke-width="1.8" stroke-linejoin="miter"/>
<path d="M288.43 407.52l4 -4.4l4 4.4l-4 4.4z" fill="#fff" stroke="#6cc81e" stroke-width="1.8" stroke-linejoin="miter"/>
<path d="M295.4 400.45l4 -4.4l4 4.4l-4 4.4z" fill="#fff" stroke="#6cc81e" stroke-width="1.8" stroke-linejoin="miter"/>
<path d="M302.38 393.1l4 -4.4l4 4.4l-4 4.4z" fill="#fff" stroke="#6cc81e" stroke-width="1.8" stroke-linejoin="miter"/>
<path d="M309.35 387.56l4 -4.4l4 4.4l-4 4.4z" fill="#fff" stroke="#6cc81e" stroke-width="1.8" stroke-linejoin="miter"/>
<path d="M316.32 382.36l4 -4.4l4 4.4l-4 4.4z" fill="#fff" stroke="#6cc81e" stroke-width="1.8" stroke-linejoin="miter"/>
<path d="M323.3 377.16l4 -4.4l4 4.4l-4 4.4z" fill="#fff" stroke="#6cc81e" stroke-width="1.8" stroke-linejoin="miter"/>
<path d="M330.27 371.96l4 -4.4l4 4.4l-4 4.4z" fill="#fff" stroke="#6cc81e" stroke-width="1.8" stroke-linejoin="miter"/>
<path d="M337.25 366.76l4 -4.4l4 4.4l-4 4.4z" fill="#fff" stroke="#6cc81e" stroke-width="1.8" stroke-linejoin="miter"/>
<path d="M344.22 361.76l4 -4.4l4 4.4l-4 4.4z" fill="#fff" stroke="#6cc81e" stroke-width="1.8" stroke-linejoin="miter"/>
<path d="M351.2 356.77l4 -4.4l4 4.4l-4 4.4z" fill="#fff" stroke="#6cc81e" stroke-width="1.8" stroke-linejoin="miter"/>
<path d="M128 581.62l4 -4.4l4 4.4l-4 4.4z" fill="#fff" stroke="#1ecb62" stroke-width="1.8" stroke-linejoin="miter"/>
<path d="M134.97 580.79l4 -4.4l4 4.4l-4 4.4z" fill="#fff" stroke="#1ecb62" stroke-width="1.8" stroke-linejoin="miter"/>
<path d="M141.95 579.96l4 -4.4l4 4.4l-4 4.4z" fill="#fff" stroke="#1ecb62" stroke-width="1.8" stroke-linejoin="miter"/>
<path d="M148.93 577.27l4 -4.4l4 4.4l-4 4.4z" fill="#fff" stroke="#1ecb62" stroke-width="1.8" stroke-linejoin="miter"/>
<path d="M155.9 574.59l4 -4.4l4 4.4l-4 4.4z" fill="#fff" stroke="#1ecb62" stroke-width="1.8" stroke-linejoin="miter"/>
<path d="M162.88 570.51l4 -4.4l4 4.4l-4 4.4z" fill="#fff" stroke="#1ecb62" stroke-width="1.8" stroke-linejoin="miter"/>
<path d="M169.85 566.44l4 -4.4l4 4.4l-4 4.4z" fill="#fff" stroke="#1ecb62" stroke-width="1.8" stroke-linejoin="miter"/>
<path d="M176.82 560.82l4 -4.4l4 4.4l-4 4.4z" fill="#fff" stroke="#1ecb62" stroke-width="1.8" stroke-linejoin="miter"/>
<path d="M183.8 555.2l4 -4.4l4 4.4l-4 4.4z" fill="#fff" stroke="#1ecb62" stroke-width="1.8" stroke-linejoin="miter"/>
<path d="M190.77 548.19l4 -4.4l4 4.4l-4 4.4z" fill="#fff" stroke="#1ecb62" stroke-width="1.8" stroke-linejoin="miter"/>
<path d="M197.75 541.18l4 -4.4l4 4.4l-4 4.4z" fill="#fff" stroke="#1ecb62" stroke-width="1.8" stroke-linejoin="miter"/>
<path d="M204.73 531.91l4 -4.4l4 4.4l-4 4.4z" fill="#fff" stroke="#1ecb62" stroke-width="1.8" stroke-linejoin="miter"/>
<path d="M211.7 522.51l4 -4.4l4 4.4l-4 4.4z" fill="#fff" stroke="#1ecb62" stroke-width="1.8" stroke-linejoin="miter"/>
<path d="M218.68 511.52l4 -4.4l4 4.4l-4 4.4z" fill="#fff" stroke="#1ecb62" stroke-width="1.8" stroke-linejoin="miter"/>
<path d="M225.65 499.04l4 -4.4l4 4.4l-4 4.4z" fill="#fff" stroke="#1ecb62" stroke-width="1.8" stroke-linejoin="miter"/>
<path d="M232.62 487.4l4 -4.4l4 4.4l-4 4.4z" fill="#fff" stroke="#1ecb62" stroke-width="1.8" stroke-linejoin="miter"/>
<path d="M239.6 474.5l4 -4.4l4 4.4l-4 4.4z" fill="#fff" stroke="#1ecb62" stroke-width="1.8" stroke-linejoin="miter"/>
<path d="M246.57 462.44l4 -4.4l4 4.4l-4 4.4z" fill="#fff" stroke="#1ecb62" stroke-width="1.8" stroke-linejoin="miter"/>
<path d="M253.55 450.79l4 -4.4l4 4.4l-4 4.4z" fill="#fff" stroke="#1ecb62" stroke-width="1.8" stroke-linejoin="miter"/>
<path d="M260.52 439.56l4 -4.4l4 4.4l-4 4.4z" fill="#fff" stroke="#1ecb62" stroke-width="1.8" stroke-linejoin="miter"/>
<path d="M267.5 429.57l4 -4.4l4 4.4l-4 4.4z" fill="#fff" stroke="#1ecb62" stroke-width="1.8" stroke-linejoin="miter"/>
<path d="M274.47 421.67l4 -4.4l4 4.4l-4 4.4z" fill="#fff" stroke="#1ecb62" stroke-width="1.8" stroke-linejoin="miter"/>
<path d="M281.45 415.01l4 -4.4l4 4.4l-4 4.4z" fill="#fff" stroke="#1ecb62" stroke-width="1.8" stroke-linejoin="miter"/>
<path d="M288.43 407.94l4 -4.4l4 4.4l-4 4.4z" fill="#fff" stroke="#1ecb62" stroke-width="1.8" stroke-linejoin="miter"/>
<path d="M295.4 400.87l4 -4.4l4 4.4l-4 4.4z" fill="#fff" stroke="#1ecb62" stroke-width="1.8" stroke-linejoin="miter"/>
<path d="M302.38 394.35l4 -4.4l4 4.4l-4 4.4z" fill="#fff" stroke="#1ecb62" stroke-width="1.8" stroke-linejoin="miter"/>
<path d="M309.35 388.8l4 -4.4l4 4.4l-4 4.4z" fill="#fff" stroke="#1ecb62" stroke-width="1.8" stroke-linejoin="miter"/>
<path d="M316.32 383.6l4 -4.4l4 4.4l-4 4.4z" fill="#fff" stroke="#1ecb62" stroke-width="1.8" stroke-linejoin="miter"/>
<path d="M323.3 378.4l4 -4.4l4 4.4l-4 4.4z" fill="#fff" stroke="#1ecb62" stroke-width="1.8" stroke-linejoin="miter"/>
<path d="M330.27 373.2l4 -4.4l4 4.4l-4 4.4z" fill="#fff" stroke="#1ecb62" stroke-width="1.8" stroke-linejoin="miter"/>
<path d="M337.25 368l4 -4.4l4 4.4l-4 4.4z" fill="#fff" stroke="#1ecb62" stroke-width="1.8" stroke-linejoin="miter"/>
<path d="M344.22 363.01l4 -4.4l4 4.4l-4 4.4z" fill="#fff" stroke="#1ecb62" stroke-width="1.8" stroke-linejoin="miter"/>
<path d="M351.2 358.02l4 -4.4l4 4.4l-4 4.4z" fill="#fff" stroke="#1ecb62" stroke-width="1.8" stroke-linejoin="miter"/>
<path d="M128 615.52l4 -4.4l4 4.4l-4 4.4z" fill="#fff" stroke="#1488dc" stroke-width="1.8" stroke-linejoin="miter"/>
<path d="M134.97 613.76l4 -4.4l4 4.4l-4 4.4z" fill="#fff" stroke="#1488dc" stroke-width="1.8" stroke-linejoin="miter"/>
<path d="M141.95 611.99l4 -4.4l4 4.4l-4 4.4z" fill="#fff" stroke="#1488dc" stroke-width="1.8" stroke-linejoin="miter"/>
<path d="M148.93 608.49l4 -4.4l4 4.4l-4 4.4z" fill="#fff" stroke="#1488dc" stroke-width="1.8" stroke-linejoin="miter"/>
<path d="M155.9 605l4 -4.4l4 4.4l-4 4.4z" fill="#fff" stroke="#1488dc" stroke-width="1.8" stroke-linejoin="miter"/>
<path d="M162.88 599.72l4 -4.4l4 4.4l-4 4.4z" fill="#fff" stroke="#1488dc" stroke-width="1.8" stroke-linejoin="miter"/>
<path d="M169.85 593.31l4 -4.4l4 4.4l-4 4.4z" fill="#fff" stroke="#1488dc" stroke-width="1.8" stroke-linejoin="miter"/>
<path d="M176.82 586.4l4 -4.4l4 4.4l-4 4.4z" fill="#fff" stroke="#1488dc" stroke-width="1.8" stroke-linejoin="miter"/>
<path d="M183.8 577.67l4 -4.4l4 4.4l-4 4.4z" fill="#fff" stroke="#1488dc" stroke-width="1.8" stroke-linejoin="miter"/>
<path d="M190.77 568.81l4 -4.4l4 4.4l-4 4.4z" fill="#fff" stroke="#1488dc" stroke-width="1.8" stroke-linejoin="miter"/>
<path d="M197.75 558.28l4 -4.4l4 4.4l-4 4.4z" fill="#fff" stroke="#1488dc" stroke-width="1.8" stroke-linejoin="miter"/>
<path d="M204.73 548.13l4 -4.4l4 4.4l-4 4.4z" fill="#fff" stroke="#1488dc" stroke-width="1.8" stroke-linejoin="miter"/>
<path d="M211.7 534.99l4 -4.4l4 4.4l-4 4.4z" fill="#fff" stroke="#1488dc" stroke-width="1.8" stroke-linejoin="miter"/>
<path d="M218.68 522.34l4 -4.4l4 4.4l-4 4.4z" fill="#fff" stroke="#1488dc" stroke-width="1.8" stroke-linejoin="miter"/>
<path d="M225.65 507.99l4 -4.4l4 4.4l-4 4.4z" fill="#fff" stroke="#1488dc" stroke-width="1.8" stroke-linejoin="miter"/>
<path d="M232.62 492.6l4 -4.4l4 4.4l-4 4.4z" fill="#fff" stroke="#1488dc" stroke-width="1.8" stroke-linejoin="miter"/>
<path d="M239.6 475.33l4 -4.4l4 4.4l-4 4.4z" fill="#fff" stroke="#1488dc" stroke-width="1.8" stroke-linejoin="miter"/>
<path d="M246.57 461.13l4 -4.4l4 4.4l-4 4.4z" fill="#fff" stroke="#1488dc" stroke-width="1.8" stroke-linejoin="miter"/>
<path d="M253.55 446.63l4 -4.4l4 4.4l-4 4.4z" fill="#fff" stroke="#1488dc" stroke-width="1.8" stroke-linejoin="miter"/>
<path d="M260.52 434.23l4 -4.4l4 4.4l-4 4.4z" fill="#fff" stroke="#1488dc" stroke-width="1.8" stroke-linejoin="miter"/>
<path d="M267.5 423.33l4 -4.4l4 4.4l-4 4.4z" fill="#fff" stroke="#1488dc" stroke-width="1.8" stroke-linejoin="miter"/>
<path d="M274.47 415.33l4 -4.4l4 4.4l-4 4.4z" fill="#fff" stroke="#1488dc" stroke-width="1.8" stroke-linejoin="miter"/>
<path d="M281.45 408.77l4 -4.4l4 4.4l-4 4.4z" fill="#fff" stroke="#1488dc" stroke-width="1.8" stroke-linejoin="miter"/>
<path d="M288.43 402.27l4 -4.4l4 4.4l-4 4.4z" fill="#fff" stroke="#1488dc" stroke-width="1.8" stroke-linejoin="miter"/>
<path d="M295.4 396.15l4 -4.4l4 4.4l-4 4.4z" fill="#fff" stroke="#1488dc" stroke-width="1.8" stroke-linejoin="miter"/>
<path d="M302.38 390.61l4 -4.4l4 4.4l-4 4.4z" fill="#fff" stroke="#1488dc" stroke-width="1.8" stroke-linejoin="miter"/>
<path d="M309.35 385.06l4 -4.4l4 4.4l-4 4.4z" fill="#fff" stroke="#1488dc" stroke-width="1.8" stroke-linejoin="miter"/>
<path d="M316.32 379.86l4 -4.4l4 4.4l-4 4.4z" fill="#fff" stroke="#1488dc" stroke-width="1.8" stroke-linejoin="miter"/>
<path d="M323.3 374.66l4 -4.4l4 4.4l-4 4.4z" fill="#fff" stroke="#1488dc" stroke-width="1.8" stroke-linejoin="miter"/>
<path d="M330.27 369.46l4 -4.4l4 4.4l-4 4.4z" fill="#fff" stroke="#1488dc" stroke-width="1.8" stroke-linejoin="miter"/>
<path d="M337.25 364.26l4 -4.4l4 4.4l-4 4.4z" fill="#fff" stroke="#1488dc" stroke-width="1.8" stroke-linejoin="miter"/>
<path d="M344.22 359.27l4 -4.4l4 4.4l-4 4.4z" fill="#fff" stroke="#1488dc" stroke-width="1.8" stroke-linejoin="miter"/>
<path d="M351.2 354.28l4 -4.4l4 4.4l-4 4.4z" fill="#fff" stroke="#1488dc" stroke-width="1.8" stroke-linejoin="miter"/>
<text x="70.8" y="606.3" font-size="21.3" text-anchor="end" fill="#000"  stroke="#000" stroke-width="0.3" xml:space="preserve"><tspan>2.0</tspan></text>
<text x="70.8" y="522.4" font-size="21.3" text-anchor="end" fill="#000"  stroke="#000" stroke-width="0.3" xml:space="preserve"><tspan>2.2</tspan></text>
<text x="70.8" y="438.5" font-size="21.3" text-anchor="end" fill="#000"  stroke="#000" stroke-width="0.3" xml:space="preserve"><tspan>2.4</tspan></text>
<text x="70.8" y="354.6" font-size="21.3" text-anchor="end" fill="#000"  stroke="#000" stroke-width="0.3" xml:space="preserve"><tspan>2.6</tspan></text>
<text x="0" y="0" transform="translate(29.7,495.8) rotate(-90)" font-size="23.6" text-anchor="middle" fill="#000"  stroke="#000" stroke-width="0.3" xml:space="preserve"><tspan font-style="italic">M</tspan><tspan>/</tspan><tspan font-style="italic">H</tspan><tspan> (10</tspan><tspan font-size="15.81" dy="-13.69">-3</tspan><tspan dy="13.69"> cm</tspan><tspan font-size="15.81" dy="-13.69">3</tspan><tspan dy="13.69"> mol</tspan><tspan font-size="15.81" dy="-13.69">-1</tspan><tspan dy="13.69">)</tspan></text>
<text x="95.3" y="364.2" font-size="21.3" text-anchor="start" fill="#000"  stroke="#000" stroke-width="0.3" xml:space="preserve"><tspan>Pb</tspan><tspan font-size="14.48" dy="3.41">3</tspan><tspan dy="-3.41">ReO</tspan><tspan font-size="14.48" dy="3.41">5</tspan><tspan dy="-3.41">Cl</tspan><tspan font-size="14.48" dy="3.41">2</tspan></text>
<text x="92.8" y="415.8" font-size="19" text-anchor="start" fill="#000"  stroke="#000" stroke-width="0.3" xml:space="preserve"><tspan>7</tspan><tspan dx="4.2">T</tspan></text>
<text x="92.8" y="451" font-size="19" text-anchor="start" fill="#000"  stroke="#000" stroke-width="0.3" xml:space="preserve"><tspan>5</tspan><tspan dx="4.2">T</tspan></text>
<text x="92.8" y="482.8" font-size="19" text-anchor="start" fill="#000"  stroke="#000" stroke-width="0.3" xml:space="preserve"><tspan>4</tspan><tspan dx="4.2">T</tspan></text>
<text x="92.8" y="530.8" font-size="19" text-anchor="start" fill="#000"  stroke="#000" stroke-width="0.3" xml:space="preserve"><tspan>3</tspan><tspan dx="4.2">T</tspan></text>
<text x="92.8" y="591.6" font-size="19" text-anchor="start" fill="#000"  stroke="#000" stroke-width="0.3" xml:space="preserve"><tspan>2</tspan><tspan dx="4.2">T</tspan></text>
<text x="92.8" y="626.6" font-size="19" text-anchor="start" fill="#000"  stroke="#000" stroke-width="0.3" xml:space="preserve"><tspan>1</tspan><tspan dx="4.2">T</tspan></text>
<path d="M253.1 480.9h14.5l-7.25 -12.3z" fill="#000"/>
<text x="269.6" y="481" font-size="21.3" text-anchor="start" fill="#000"  stroke="#000" stroke-width="0.3" xml:space="preserve"><tspan font-style="italic">T</tspan><tspan dx="-1.3" font-size="14.48" dy="3.41">N</tspan></text>
<rect x="265.9" y="524.7" width="75.3" height="89.1" fill="#fff"/>
<path d="M265.9 613.8L341.2 551.13" stroke="#888" stroke-width="1" stroke-dasharray="3.5 2.5" fill="none"/>
<path d="M265.9 613.77 L266.98 612.87 L268.05 611.97 L269.13 611.07 L270.2 610.16 L271.28 609.26 L272.35 608.35 L273.43 607.44 L274.51 606.52 L275.58 605.6 L276.66 604.67 L277.73 603.74 L278.81 602.8 L279.88 601.85 L280.96 600.89 L282.04 599.92 L283.11 598.94 L284.19 597.95 L285.26 596.94 L286.34 595.92 L287.41 594.89 L288.49 593.83 L289.57 592.77 L290.64 591.69 L291.72 590.6 L292.79 589.49 L293.87 588.37 L294.94 587.24 L296.02 586.1 L297.1 584.96 L298.17 583.8 L299.25 582.64 L300.32 581.48 L301.4 580.31 L302.47 579.13 L303.55 577.96 L304.63 576.78 L305.7 575.59 L306.78 574.41 L307.85 573.23 L308.93 572.04 L310 570.85 L311.08 569.66 L312.16 568.47 L313.23 567.28 L314.31 566.09 L315.38 564.9 L316.46 563.71 L317.53 562.52 L318.61 561.33 L319.69 560.13 L320.76 558.94 L321.84 557.75 L322.91 556.56 L323.99 555.37 L325.06 554.17 L326.14 552.98 L327.22 551.79 L328.29 550.6 L329.37 549.4 L330.44 548.21 L331.52 547.02 L332.59 545.82 L333.67 544.63 L334.75 543.44 L335.82 542.25 L336.9 541.05 L337.97 539.86 L339.05 538.67 L340.12 537.48 L341.2 536.28" stroke="#dc1414" stroke-width="1.6" fill="none"/>
<rect x="265.9" y="524.7" width="75.3" height="89.1" fill="none" stroke="#000" stroke-width="1.6"/>
<path d="M265.9 613.8v-8M265.9 524.7v8M319.69 613.8v-8M319.69 524.7v8M276.66 613.8v-4.4M276.66 524.7v4.4M287.41 613.8v-4.4M287.41 524.7v4.4M298.17 613.8v-4.4M298.17 524.7v4.4M308.93 613.8v-4.4M308.93 524.7v4.4M330.44 613.8v-4.4M330.44 524.7v4.4M265.9 613.8h8M341.2 613.8h-8M265.9 584.1h8M341.2 584.1h-8M265.9 554.4h8M341.2 554.4h-8M265.9 524.7h8M341.2 524.7h-8M265.9 598.95h4.4M341.2 598.95h-4.4M265.9 569.25h4.4M341.2 569.25h-4.4M265.9 539.55h4.4M341.2 539.55h-4.4" stroke="#000" stroke-width="1.4" fill="none"/>
<text x="262.2" y="619.4" font-size="16.4" text-anchor="end" fill="#000"  stroke="#000" stroke-width="0.3" xml:space="preserve"><tspan>0</tspan></text>
<text x="262.2" y="589.7" font-size="16.4" text-anchor="end" fill="#000"  stroke="#000" stroke-width="0.3" xml:space="preserve"><tspan>1</tspan></text>
<text x="262.2" y="560" font-size="16.4" text-anchor="end" fill="#000"  stroke="#000" stroke-width="0.3" xml:space="preserve"><tspan>2</tspan></text>
<text x="262.2" y="530.3" font-size="16.4" text-anchor="end" fill="#000"  stroke="#000" stroke-width="0.3" xml:space="preserve"><tspan>3</tspan></text>
<text x="265.9" y="632.2" font-size="16.4" text-anchor="middle" fill="#000"  stroke="#000" stroke-width="0.3" xml:space="preserve"><tspan>0</tspan></text>
<text x="319.69" y="632.2" font-size="16.4" text-anchor="middle" fill="#000"  stroke="#000" stroke-width="0.3" xml:space="preserve"><tspan>5</tspan></text>
<text x="277.3" y="548.6" font-size="16.4" text-anchor="start" fill="#000"  stroke="#000" stroke-width="0.3" xml:space="preserve"><tspan>2 K</tspan></text>
<text x="303.6" y="648.4" font-size="16.4" text-anchor="middle" fill="#000"  stroke="#000" stroke-width="0.3" xml:space="preserve"><tspan font-style="italic">μ</tspan><tspan font-size="11.15" dy="2.62">0</tspan><tspan font-style="italic" dy="-2.62">H</tspan><tspan> (T)</tspan></text>
<text x="0" y="0" transform="translate(245.6,569.5) rotate(-90)" font-size="16.4" text-anchor="middle" fill="#000"  stroke="#000" stroke-width="0.3" xml:space="preserve"><tspan font-style="italic">M</tspan><tspan> (10</tspan><tspan font-size="10.99" dy="-9.51">-2</tspan><tspan dy="9.51"> </tspan><tspan font-style="italic">μ</tspan><tspan font-size="11.15" dy="2.62">B</tspan><tspan dy="-2.62">/Re)</tspan></text>
<text x="-1.1" y="337.5" font-size="26.5" text-anchor="start" fill="#000" font-weight="bold"  xml:space="preserve"><tspan>c</tspan></text>
</g>
<g id="panelD">
<rect x="76.2" y="681.5" width="279" height="223.8" fill="none" stroke="#000" stroke-width="1.6"/>
<path d="M76.2 905.3v-9.8M76.2 681.5v9.8M132 905.3v-9.8M132 681.5v9.8M187.8 905.3v-9.8M187.8 681.5v9.8M243.6 905.3v-9.8M243.6 681.5v9.8M299.4 905.3v-9.8M299.4 681.5v9.8M355.2 905.3v-9.8M355.2 681.5v9.8M90.15 905.3v-5M90.15 681.5v5M104.1 905.3v-5M104.1 681.5v5M118.05 905.3v-5M118.05 681.5v5M145.95 905.3v-5M145.95 681.5v5M159.9 905.3v-5M159.9 681.5v5M173.85 905.3v-5M173.85 681.5v5M201.75 905.3v-5M201.75 681.5v5M215.7 905.3v-5M215.7 681.5v5M229.65 905.3v-5M229.65 681.5v5M257.55 905.3v-5M257.55 681.5v5M271.5 905.3v-5M271.5 681.5v5M285.45 905.3v-5M285.45 681.5v5M313.35 905.3v-5M313.35 681.5v5M327.3 905.3v-5M327.3 681.5v5M341.25 905.3v-5M341.25 681.5v5M76.2 905.3h9.8M355.2 905.3h-9.8M76.2 836.4h9.8M355.2 836.4h-9.8M76.2 767.5h9.8M355.2 767.5h-9.8M76.2 698.6h9.8M355.2 698.6h-9.8M76.2 888.07h5M355.2 888.07h-5M76.2 870.85h5M355.2 870.85h-5M76.2 853.62h5M355.2 853.62h-5M76.2 819.17h5M355.2 819.17h-5M76.2 801.95h5M355.2 801.95h-5M76.2 784.72h5M355.2 784.72h-5M76.2 750.27h5M355.2 750.27h-5M76.2 733.05h5M355.2 733.05h-5M76.2 715.82h5M355.2 715.82h-5" stroke="#000" stroke-width="1.5" fill="none"/>
<path d="M125.47 896.94l4.3 -4.3l4.3 4.3l-4.3 4.3z" fill="#fff" stroke="#7a28e6" stroke-width="2.0" stroke-linejoin="miter"/>
<path d="M137.74 891.56l4.3 -4.3l4.3 4.3l-4.3 4.3z" fill="#fff" stroke="#7a28e6" stroke-width="2.0" stroke-linejoin="miter"/>
<path d="M149.46 885.59l4.3 -4.3l4.3 4.3l-4.3 4.3z" fill="#fff" stroke="#7a28e6" stroke-width="2.0" stroke-linejoin="miter"/>
<path d="M160.06 879.33l4.3 -4.3l4.3 4.3l-4.3 4.3z" fill="#fff" stroke="#7a28e6" stroke-width="2.0" stroke-linejoin="miter"/>
<path d="M168.15 873.56l4.3 -4.3l4.3 4.3l-4.3 4.3z" fill="#fff" stroke="#7a28e6" stroke-width="2.0" stroke-linejoin="miter"/>
<path d="M177.36 865.81l4.3 -4.3l4.3 4.3l-4.3 4.3z" fill="#fff" stroke="#7a28e6" stroke-width="2.0" stroke-linejoin="miter"/>
<path d="M186.29 857.6l4.3 -4.3l4.3 4.3l-4.3 4.3z" fill="#fff" stroke="#7a28e6" stroke-width="2.0" stroke-linejoin="miter"/>
<path d="M194.66 849.31l4.3 -4.3l4.3 4.3l-4.3 4.3z" fill="#fff" stroke="#7a28e6" stroke-width="2.0" stroke-linejoin="miter"/>
<path d="M202.47 840.97l4.3 -4.3l4.3 4.3l-4.3 4.3z" fill="#fff" stroke="#7a28e6" stroke-width="2.0" stroke-linejoin="miter"/>
<path d="M210 831.45l4.3 -4.3l4.3 4.3l-4.3 4.3z" fill="#fff" stroke="#7a28e6" stroke-width="2.0" stroke-linejoin="miter"/>
<path d="M216.98 822.31l4.3 -4.3l4.3 4.3l-4.3 4.3z" fill="#fff" stroke="#7a28e6" stroke-width="2.0" stroke-linejoin="miter"/>
<path d="M223.95 812.98l4.3 -4.3l4.3 4.3l-4.3 4.3z" fill="#fff" stroke="#7a28e6" stroke-width="2.0" stroke-linejoin="miter"/>
<path d="M230.37 804.46l4.3 -4.3l4.3 4.3l-4.3 4.3z" fill="#fff" stroke="#7a28e6" stroke-width="2.0" stroke-linejoin="miter"/>
<path d="M236.51 796.5l4.3 -4.3l4.3 4.3l-4.3 4.3z" fill="#fff" stroke="#7a28e6" stroke-width="2.0" stroke-linejoin="miter"/>
<path d="M242.09 789.68l4.3 -4.3l4.3 4.3l-4.3 4.3z" fill="#fff" stroke="#7a28e6" stroke-width="2.0" stroke-linejoin="miter"/>
<path d="M247.67 784.41l4.3 -4.3l4.3 4.3l-4.3 4.3z" fill="#fff" stroke="#7a28e6" stroke-width="2.0" stroke-linejoin="miter"/>
<path d="M253.25 780.72l4.3 -4.3l4.3 4.3l-4.3 4.3z" fill="#fff" stroke="#7a28e6" stroke-width="2.0" stroke-linejoin="miter"/>
<path d="M258.27 780.25l4.3 -4.3l4.3 4.3l-4.3 4.3z" fill="#fff" stroke="#7a28e6" stroke-width="2.0" stroke-linejoin="miter"/>
<path d="M263.29 780.38l4.3 -4.3l4.3 4.3l-4.3 4.3z" fill="#fff" stroke="#7a28e6" stroke-width="2.0" stroke-linejoin="miter"/>
<path d="M268.59 779.67l4.3 -4.3l4.3 4.3l-4.3 4.3z" fill="#fff" stroke="#7a28e6" stroke-width="2.0" stroke-linejoin="miter"/>
<path d="M273.9 777.88l4.3 -4.3l4.3 4.3l-4.3 4.3z" fill="#fff" stroke="#7a28e6" stroke-width="2.0" stroke-linejoin="miter"/>
<path d="M278.92 774.74l4.3 -4.3l4.3 4.3l-4.3 4.3z" fill="#fff" stroke="#7a28e6" stroke-width="2.0" stroke-linejoin="miter"/>
<path d="M283.38 771.04l4.3 -4.3l4.3 4.3l-4.3 4.3z" fill="#fff" stroke="#7a28e6" stroke-width="2.0" stroke-linejoin="miter"/>
<path d="M288.12 767.09l4.3 -4.3l4.3 4.3l-4.3 4.3z" fill="#fff" stroke="#7a28e6" stroke-width="2.0" stroke-linejoin="miter"/>
<path d="M292.59 763.34l4.3 -4.3l4.3 4.3l-4.3 4.3z" fill="#fff" stroke="#7a28e6" stroke-width="2.0" stroke-linejoin="miter"/>
<path d="M297.05 759.12l4.3 -4.3l4.3 4.3l-4.3 4.3z" fill="#fff" stroke="#7a28e6" stroke-width="2.0" stroke-linejoin="miter"/>
<path d="M301.24 754.81l4.3 -4.3l4.3 4.3l-4.3 4.3z" fill="#fff" stroke="#7a28e6" stroke-width="2.0" stroke-linejoin="miter"/>
<path d="M305.42 749.98l4.3 -4.3l4.3 4.3l-4.3 4.3z" fill="#fff" stroke="#7a28e6" stroke-width="2.0" stroke-linejoin="miter"/>
<path d="M309.61 745.04l4.3 -4.3l4.3 4.3l-4.3 4.3z" fill="#fff" stroke="#7a28e6" stroke-width="2.0" stroke-linejoin="miter"/>
<path d="M313.51 740.82l4.3 -4.3l4.3 4.3l-4.3 4.3z" fill="#fff" stroke="#7a28e6" stroke-width="2.0" stroke-linejoin="miter"/>
<path d="M317.42 736.64l4.3 -4.3l4.3 4.3l-4.3 4.3z" fill="#fff" stroke="#7a28e6" stroke-width="2.0" stroke-linejoin="miter"/>
<path d="M321.05 732.91l4.3 -4.3l4.3 4.3l-4.3 4.3z" fill="#fff" stroke="#7a28e6" stroke-width="2.0" stroke-linejoin="miter"/>
<path d="M324.67 729.2l4.3 -4.3l4.3 4.3l-4.3 4.3z" fill="#fff" stroke="#7a28e6" stroke-width="2.0" stroke-linejoin="miter"/>
<path d="M328.3 725.31l4.3 -4.3l4.3 4.3l-4.3 4.3z" fill="#fff" stroke="#7a28e6" stroke-width="2.0" stroke-linejoin="miter"/>
<path d="M332.21 721.28l4.3 -4.3l4.3 4.3l-4.3 4.3z" fill="#fff" stroke="#7a28e6" stroke-width="2.0" stroke-linejoin="miter"/>
<path d="M336.11 717.28l4.3 -4.3l4.3 4.3l-4.3 4.3z" fill="#fff" stroke="#7a28e6" stroke-width="2.0" stroke-linejoin="miter"/>
<path d="M340.02 713.05l4.3 -4.3l4.3 4.3l-4.3 4.3z" fill="#fff" stroke="#7a28e6" stroke-width="2.0" stroke-linejoin="miter"/>
<path d="M343.92 708.61l4.3 -4.3l4.3 4.3l-4.3 4.3z" fill="#fff" stroke="#7a28e6" stroke-width="2.0" stroke-linejoin="miter"/>
<path d="M347.83 704.25l4.3 -4.3l4.3 4.3l-4.3 4.3z" fill="#fff" stroke="#7a28e6" stroke-width="2.0" stroke-linejoin="miter"/>
<path d="M124.07 894.8l4.3 -4.3l4.3 4.3l-4.3 4.3z" fill="#fff" stroke="#d74c14" stroke-width="2.0" stroke-linejoin="miter"/>
<path d="M139.98 887.85l4.3 -4.3l4.3 4.3l-4.3 4.3z" fill="#fff" stroke="#d74c14" stroke-width="2.0" stroke-linejoin="miter"/>
<path d="M153.37 880.78l4.3 -4.3l4.3 4.3l-4.3 4.3z" fill="#fff" stroke="#d74c14" stroke-width="2.0" stroke-linejoin="miter"/>
<path d="M164.53 873.79l4.3 -4.3l4.3 4.3l-4.3 4.3z" fill="#fff" stroke="#d74c14" stroke-width="2.0" stroke-linejoin="miter"/>
<path d="M174.57 865.56l4.3 -4.3l4.3 4.3l-4.3 4.3z" fill="#fff" stroke="#d74c14" stroke-width="2.0" stroke-linejoin="miter"/>
<path d="M183.78 857.34l4.3 -4.3l4.3 4.3l-4.3 4.3z" fill="#fff" stroke="#d74c14" stroke-width="2.0" stroke-linejoin="miter"/>
<path d="M191.87 849.11l4.3 -4.3l4.3 4.3l-4.3 4.3z" fill="#fff" stroke="#d74c14" stroke-width="2.0" stroke-linejoin="miter"/>
<path d="M200.24 840.54l4.3 -4.3l4.3 4.3l-4.3 4.3z" fill="#fff" stroke="#d74c14" stroke-width="2.0" stroke-linejoin="miter"/>
<path d="M207.49 831.28l4.3 -4.3l4.3 4.3l-4.3 4.3z" fill="#fff" stroke="#d74c14" stroke-width="2.0" stroke-linejoin="miter"/>
<path d="M214.47 822.03l4.3 -4.3l4.3 4.3l-4.3 4.3z" fill="#fff" stroke="#d74c14" stroke-width="2.0" stroke-linejoin="miter"/>
<path d="M221.44 812.57l4.3 -4.3l4.3 4.3l-4.3 4.3z" fill="#fff" stroke="#d74c14" stroke-width="2.0" stroke-linejoin="miter"/>
<path d="M227.86 803.69l4.3 -4.3l4.3 4.3l-4.3 4.3z" fill="#fff" stroke="#d74c14" stroke-width="2.0" stroke-linejoin="miter"/>
<path d="M234 795.63l4.3 -4.3l4.3 4.3l-4.3 4.3z" fill="#fff" stroke="#d74c14" stroke-width="2.0" stroke-linejoin="miter"/>
<path d="M239.86 787.75l4.3 -4.3l4.3 4.3l-4.3 4.3z" fill="#fff" stroke="#d74c14" stroke-width="2.0" stroke-linejoin="miter"/>
<path d="M245.44 781.58l4.3 -4.3l4.3 4.3l-4.3 4.3z" fill="#fff" stroke="#d74c14" stroke-width="2.0" stroke-linejoin="miter"/>
<path d="M250.74 777.46l4.3 -4.3l4.3 4.3l-4.3 4.3z" fill="#fff" stroke="#d74c14" stroke-width="2.0" stroke-linejoin="miter"/>
<path d="M256.04 774.38l4.3 -4.3l4.3 4.3l-4.3 4.3z" fill="#fff" stroke="#d74c14" stroke-width="2.0" stroke-linejoin="miter"/>
<path d="M260.92 775.41l4.3 -4.3l4.3 4.3l-4.3 4.3z" fill="#fff" stroke="#d74c14" stroke-width="2.0" stroke-linejoin="miter"/>
<path d="M265.53 776.44l4.3 -4.3l4.3 4.3l-4.3 4.3z" fill="#fff" stroke="#d74c14" stroke-width="2.0" stroke-linejoin="miter"/>
<path d="M270.83 776.09l4.3 -4.3l4.3 4.3l-4.3 4.3z" fill="#fff" stroke="#d74c14" stroke-width="2.0" stroke-linejoin="miter"/>
<path d="M275.85 775.06l4.3 -4.3l4.3 4.3l-4.3 4.3z" fill="#fff" stroke="#d74c14" stroke-width="2.0" stroke-linejoin="miter"/>
<path d="M280.59 772.32l4.3 -4.3l4.3 4.3l-4.3 4.3z" fill="#fff" stroke="#d74c14" stroke-width="2.0" stroke-linejoin="miter"/>
<path d="M285.06 768.89l4.3 -4.3l4.3 4.3l-4.3 4.3z" fill="#fff" stroke="#d74c14" stroke-width="2.0" stroke-linejoin="miter"/>
<path d="M289.8 764.78l4.3 -4.3l4.3 4.3l-4.3 4.3z" fill="#fff" stroke="#d74c14" stroke-width="2.0" stroke-linejoin="miter"/>
<path d="M294.26 761.11l4.3 -4.3l4.3 4.3l-4.3 4.3z" fill="#fff" stroke="#d74c14" stroke-width="2.0" stroke-linejoin="miter"/>
<path d="M298.73 756.55l4.3 -4.3l4.3 4.3l-4.3 4.3z" fill="#fff" stroke="#d74c14" stroke-width="2.0" stroke-linejoin="miter"/>
<path d="M303.19 751.93l4.3 -4.3l4.3 4.3l-4.3 4.3z" fill="#fff" stroke="#d74c14" stroke-width="2.0" stroke-linejoin="miter"/>
<path d="M307.1 747.02l4.3 -4.3l4.3 4.3l-4.3 4.3z" fill="#fff" stroke="#d74c14" stroke-width="2.0" stroke-linejoin="miter"/>
<path d="M311.28 742.29l4.3 -4.3l4.3 4.3l-4.3 4.3z" fill="#fff" stroke="#d74c14" stroke-width="2.0" stroke-linejoin="miter"/>
<path d="M315.19 738.21l4.3 -4.3l4.3 4.3l-4.3 4.3z" fill="#fff" stroke="#d74c14" stroke-width="2.0" stroke-linejoin="miter"/>
<path d="M318.81 734.27l4.3 -4.3l4.3 4.3l-4.3 4.3z" fill="#fff" stroke="#d74c14" stroke-width="2.0" stroke-linejoin="miter"/>
<path d="M322.44 730.67l4.3 -4.3l4.3 4.3l-4.3 4.3z" fill="#fff" stroke="#d74c14" stroke-width="2.0" stroke-linejoin="miter"/>
<path d="M326.35 726.59l4.3 -4.3l4.3 4.3l-4.3 4.3z" fill="#fff" stroke="#d74c14" stroke-width="2.0" stroke-linejoin="miter"/>
<path d="M329.97 722.62l4.3 -4.3l4.3 4.3l-4.3 4.3z" fill="#fff" stroke="#d74c14" stroke-width="2.0" stroke-linejoin="miter"/>
<path d="M334.16 718.5l4.3 -4.3l4.3 4.3l-4.3 4.3z" fill="#fff" stroke="#d74c14" stroke-width="2.0" stroke-linejoin="miter"/>
<path d="M338.34 714.05l4.3 -4.3l4.3 4.3l-4.3 4.3z" fill="#fff" stroke="#d74c14" stroke-width="2.0" stroke-linejoin="miter"/>
<path d="M341.97 710.04l4.3 -4.3l4.3 4.3l-4.3 4.3z" fill="#fff" stroke="#d74c14" stroke-width="2.0" stroke-linejoin="miter"/>
<path d="M345.88 705.48l4.3 -4.3l4.3 4.3l-4.3 4.3z" fill="#fff" stroke="#d74c14" stroke-width="2.0" stroke-linejoin="miter"/>
<path d="M350.06 701.02l4.3 -4.3l4.3 4.3l-4.3 4.3z" fill="#fff" stroke="#d74c14" stroke-width="2.0" stroke-linejoin="miter"/>
<text x="76.2" y="926.8" font-size="21.3" text-anchor="middle" fill="#000"  stroke="#000" stroke-width="0.3" xml:space="preserve"><tspan>0</tspan></text>
<text x="132" y="926.8" font-size="21.3" text-anchor="middle" fill="#000"  stroke="#000" stroke-width="0.3" xml:space="preserve"><tspan>2</tspan></text>
<text x="187.8" y="926.8" font-size="21.3" text-anchor="middle" fill="#000"  stroke="#000" stroke-width="0.3" xml:space="preserve"><tspan>4</tspan></text>
<text x="243.6" y="926.8" font-size="21.3" text-anchor="middle" fill="#000"  stroke="#000" stroke-width="0.3" xml:space="preserve"><tspan>6</tspan></text>
<text x="299.4" y="926.8" font-size="21.3" text-anchor="middle" fill="#000"  stroke="#000" stroke-width="0.3" xml:space="preserve"><tspan>8</tspan></text>
<text x="355.2" y="926.8" font-size="21.3" text-anchor="middle" fill="#000"  stroke="#000" stroke-width="0.3" xml:space="preserve"><tspan>10</tspan></text>
<text x="70.8" y="911.1" font-size="21.3" text-anchor="end" fill="#000"  stroke="#000" stroke-width="0.3" xml:space="preserve"><tspan>0</tspan></text>
<text x="70.8" y="842.2" font-size="21.3" text-anchor="end" fill="#000"  stroke="#000" stroke-width="0.3" xml:space="preserve"><tspan>0.2</tspan></text>
<text x="70.8" y="773.3" font-size="21.3" text-anchor="end" fill="#000"  stroke="#000" stroke-width="0.3" xml:space="preserve"><tspan>0.4</tspan></text>
<text x="70.8" y="704.4" font-size="21.3" text-anchor="end" fill="#000"  stroke="#000" stroke-width="0.3" xml:space="preserve"><tspan>0.6</tspan></text>
<text x="216.5" y="957.9" font-size="23.6" text-anchor="middle" fill="#000"  stroke="#000" stroke-width="0.3" xml:space="preserve"><tspan font-style="italic">T</tspan><tspan> (K)</tspan></text>
<text x="0" y="0" transform="translate(29.7,801.7) rotate(-90)" font-size="23.6" text-anchor="middle" fill="#000"  stroke="#000" stroke-width="0.3" xml:space="preserve"><tspan font-style="italic">C</tspan><tspan>/</tspan><tspan font-style="italic">T</tspan><tspan> (J K</tspan><tspan font-size="15.81" dy="-13.69">-2</tspan><tspan dy="13.69"> mol</tspan><tspan font-size="15.81" dy="-13.69">-1</tspan><tspan dy="13.69">)</tspan></text>
<text x="95" y="718.5" font-size="21.3" text-anchor="start" fill="#000"  stroke="#000" stroke-width="0.3" xml:space="preserve"><tspan>Pb</tspan><tspan font-size="14.48" dy="3.41">3</tspan><tspan dy="-3.41">ReO</tspan><tspan font-size="14.48" dy="3.41">5</tspan><tspan dy="-3.41">Cl</tspan><tspan font-size="14.48" dy="3.41">2</tspan></text>
<path d="M110.5 783.5l5.9 -5.9l5.9 5.9l-5.9 5.9z" fill="#fff" stroke="#7a28e6" stroke-width="1.4" stroke-linejoin="miter"/>
<path d="M110.5 802.5l5.9 -5.9l5.9 5.9l-5.9 5.9z" fill="#fff" stroke="#d74c14" stroke-width="1.4" stroke-linejoin="miter"/>
<text x="137" y="788.5" font-size="19" text-anchor="start" fill="#000"  stroke="#000" stroke-width="0.3" xml:space="preserve"><tspan>0</tspan><tspan dx="4.2">T</tspan></text>
<text x="137" y="806.9" font-size="19" text-anchor="start" fill="#000"  stroke="#000" stroke-width="0.3" xml:space="preserve"><tspan>7</tspan><tspan dx="4.2">T</tspan></text>
<path d="M253.0 805.5h14.5l-7.25 -12.3z" fill="#000"/>
<text x="248.9" y="829.6" font-size="21.3" text-anchor="start" fill="#000"  stroke="#000" stroke-width="0.3" xml:space="preserve"><tspan font-style="italic">T</tspan><tspan dx="-1.3" font-size="14.48" dy="3.41">N</tspan></text>
<text x="-1.1" y="695.5" font-size="26.5" text-anchor="start" fill="#000" font-weight="bold"  xml:space="preserve"><tspan>d</tspan></text>
</g>
<g id="panelE">
<defs>
<radialGradient id="gPb" cx="0.53" cy="0.50" r="0.53"><stop offset="0" stop-color="#ffffff"/><stop offset="0.12" stop-color="#f4f4f6"/><stop offset="0.4" stop-color="#84868d"/><stop offset="0.7" stop-color="#686a71"/><stop offset="0.9" stop-color="#5a5c63"/><stop offset="1" stop-color="#3e4046"/></radialGradient>
<radialGradient id="gCl" cx="0.53" cy="0.50" r="0.53"><stop offset="0" stop-color="#ffffff"/><stop offset="0.12" stop-color="#e8ffdc"/><stop offset="0.4" stop-color="#58e432"/><stop offset="0.7" stop-color="#33d314"/><stop offset="0.9" stop-color="#2abf10"/><stop offset="1" stop-color="#187a06"/></radialGradient>
<radialGradient id="gO" cx="0.53" cy="0.50" r="0.53"><stop offset="0" stop-color="#ffffff"/><stop offset="0.14" stop-color="#fff8dc"/><stop offset="0.42" stop-color="#f7d47e"/><stop offset="0.72" stop-color="#efc56c"/><stop offset="0.9" stop-color="#dfb35c"/><stop offset="1" stop-color="#a8863c"/></radialGradient>
<radialGradient id="gRe" cx="0.53" cy="0.50" r="0.53"><stop offset="0" stop-color="#f4e8ff"/><stop offset="0.16" stop-color="#b088e0"/><stop offset="0.45" stop-color="#6224a8"/><stop offset="0.78" stop-color="#4a1490"/><stop offset="1" stop-color="#2a0660"/></radialGradient>
<radialGradient id="gBa" cx="0.53" cy="0.50" r="0.53"><stop offset="0" stop-color="#ffffff"/><stop offset="0.14" stop-color="#eefaff"/><stop offset="0.42" stop-color="#8ad0f2"/><stop offset="0.72" stop-color="#6cbce6"/><stop offset="0.9" stop-color="#5aa8d4"/><stop offset="1" stop-color="#3a7ea6"/></radialGradient>
<radialGradient id="gCy" cx="0.45" cy="0.42" r="0.62"><stop offset="0" stop-color="#4ef8ff"/><stop offset="0.55" stop-color="#20e8f4"/><stop offset="0.88" stop-color="#18ccda"/><stop offset="1" stop-color="#129eac"/></radialGradient>
<radialGradient id="gYe" cx="0.45" cy="0.42" r="0.62"><stop offset="0" stop-color="#faf660"/><stop offset="0.55" stop-color="#eee828"/><stop offset="0.9" stop-color="#d2cc1c"/><stop offset="1" stop-color="#a8a214"/></radialGradient>
<radialGradient id="gOy" cx="0.5" cy="0.5" r="0.55"><stop offset="0" stop-color="#fff2a0"/><stop offset="0.5" stop-color="#f6dc50"/><stop offset="1" stop-color="#e2c838"/></radialGradient>
<radialGradient id="gCy2" cx="0.42" cy="0.42" r="0.62"><stop offset="0" stop-color="#44f2fa"/><stop offset="0.5" stop-color="#1fe0ea"/><stop offset="0.85" stop-color="#16c4d0"/><stop offset="1" stop-color="#0f98a6"/></radialGradient>
</defs>
<text x="537.2" y="347.6" font-size="21.3" text-anchor="middle" fill="#000"  stroke="#000" stroke-width="0.3" xml:space="preserve"><tspan>Pb</tspan><tspan font-size="14.48" dy="3.41">3</tspan><tspan dy="-3.41">ReO</tspan><tspan font-size="14.48" dy="3.41">5</tspan><tspan dy="-3.41">Cl</tspan><tspan font-size="14.48" dy="3.41">2</tspan></text>
<clipPath id="clipE1"><rect x="401.2" y="371.8" width="270.6" height="210.6"/></clipPath>
<g clip-path="url(#clipE1)">
<circle cx="479.6" cy="389.7" r="13" fill="url(#gPb)"/>
<circle cx="536.5" cy="379.7" r="13" fill="url(#gPb)"/>
<circle cx="594.1" cy="389.7" r="13" fill="url(#gPb)"/>
<circle cx="434" cy="449.6" r="13" fill="url(#gPb)"/>
<circle cx="491.2" cy="439.8" r="13" fill="url(#gPb)"/>
<circle cx="582.7" cy="439.5" r="13" fill="url(#gPb)"/>
<circle cx="640.1" cy="449" r="13" fill="url(#gPb)"/>
<path d="M434 409.6L434 394.3" stroke="#6a2cae" stroke-width="3.2"/>
<path d="M434 394.3L434 379" stroke="#ecd088" stroke-width="3.2"/>
<path d="M434 409.6L421.75 414.3" stroke="#6a2cae" stroke-width="3.2"/>
<path d="M421.75 414.3L409.5 419" stroke="#ecd088" stroke-width="3.2"/>
<path d="M434 409.6L446.2 414.3" stroke="#6a2cae" stroke-width="3.2"/>
<path d="M446.2 414.3L458.4 419" stroke="#ecd088" stroke-width="3.2"/>
<circle cx="434" cy="379" r="8.6" fill="url(#gO)"/>
<circle cx="409.5" cy="419" r="8.6" fill="url(#gO)"/>
<circle cx="458.4" cy="419" r="8.6" fill="url(#gO)"/>
<circle cx="434" cy="409.6" r="6" fill="url(#gRe)"/>
<path d="M639.7 409.6L639.7 394.3" stroke="#6a2cae" stroke-width="3.2"/>
<path d="M639.7 394.3L639.7 379" stroke="#ecd088" stroke-width="3.2"/>
<path d="M639.7 409.6L627.45 414.3" stroke="#6a2cae" stroke-width="3.2"/>
<path d="M627.45 414.3L615.2 419" stroke="#ecd088" stroke-width="3.2"/>
<path d="M639.7 409.6L651.9 414.3" stroke="#6a2cae" stroke-width="3.2"/>
<path d="M651.9 414.3L664.1 419" stroke="#ecd088" stroke-width="3.2"/>
<circle cx="639.7" cy="379" r="8.6" fill="url(#gO)"/>
<circle cx="615.2" cy="419" r="8.6" fill="url(#gO)"/>
<circle cx="664.1" cy="419" r="8.6" fill="url(#gO)"/>
<circle cx="639.7" cy="409.6" r="6" fill="url(#gRe)"/>
<path d="M536.9 419.6L524.55 415" stroke="#6a2cae" stroke-width="3.2"/>
<path d="M524.55 415L512.2 410.4" stroke="#ecd088" stroke-width="3.2"/>
<path d="M536.9 419.6L549.3 415.15" stroke="#6a2cae" stroke-width="3.2"/>
<path d="M549.3 415.15L561.7 410.7" stroke="#ecd088" stroke-width="3.2"/>
<path d="M536.9 419.6L536.9 434.9" stroke="#6a2cae" stroke-width="3.2"/>
<path d="M536.9 434.9L536.9 450.2" stroke="#ecd088" stroke-width="3.2"/>
<circle cx="512.2" cy="410.4" r="8.6" fill="url(#gO)"/>
<circle cx="561.7" cy="410.7" r="8.6" fill="url(#gO)"/>
<circle cx="536.9" cy="450.2" r="8.6" fill="url(#gO)"/>
<circle cx="536.9" cy="419.6" r="6" fill="url(#gRe)"/>
<circle cx="434" cy="471" r="12.4" fill="url(#gCl)"/>
<circle cx="639.7" cy="471" r="12.4" fill="url(#gCl)"/>
<circle cx="434" cy="574" r="13" fill="url(#gPb)"/>
<circle cx="491.2" cy="564" r="13" fill="url(#gPb)"/>
<circle cx="582.3" cy="564" r="13" fill="url(#gPb)"/>
<circle cx="640.1" cy="574" r="13" fill="url(#gPb)"/>
<circle cx="480.6" cy="514.6" r="13" fill="url(#gPb)"/>
<circle cx="593.4" cy="514.6" r="13" fill="url(#gPb)"/>
<path d="M434 534.3L434 519" stroke="#6a2cae" stroke-width="3.2"/>
<path d="M434 519L434 503.7" stroke="#ecd088" stroke-width="3.2"/>
<path d="M434 534.3L421.75 539" stroke="#6a2cae" stroke-width="3.2"/>
<path d="M421.75 539L409.5 543.7" stroke="#ecd088" stroke-width="3.2"/>
<path d="M434 534.3L446.2 539" stroke="#6a2cae" stroke-width="3.2"/>
<path d="M446.2 539L458.4 543.7" stroke="#ecd088" stroke-width="3.2"/>
<circle cx="434" cy="503.7" r="8.6" fill="url(#gO)"/>
<circle cx="409.5" cy="543.7" r="8.6" fill="url(#gO)"/>
<circle cx="458.4" cy="543.7" r="8.6" fill="url(#gO)"/>
<circle cx="434" cy="534.3" r="6" fill="url(#gRe)"/>
<path d="M639.7 534.3L639.7 519" stroke="#6a2cae" stroke-width="3.2"/>
<path d="M639.7 519L639.7 503.7" stroke="#ecd088" stroke-width="3.2"/>
<path d="M639.7 534.3L627.45 539" stroke="#6a2cae" stroke-width="3.2"/>
<path d="M627.45 539L615.2 543.7" stroke="#ecd088" stroke-width="3.2"/>
<path d="M639.7 534.3L651.9 539" stroke="#6a2cae" stroke-width="3.2"/>
<path d="M651.9 539L664.1 543.7" stroke="#ecd088" stroke-width="3.2"/>
<circle cx="639.7" cy="503.7" r="8.6" fill="url(#gO)"/>
<circle cx="615.2" cy="543.7" r="8.6" fill="url(#gO)"/>
<circle cx="664.1" cy="543.7" r="8.6" fill="url(#gO)"/>
<circle cx="639.7" cy="534.3" r="6" fill="url(#gRe)"/>
<g opacity="0.93">
<ellipse cx="0" cy="0" rx="22" ry="13.8" transform="translate(469.6,501.2) rotate(-35)" fill="url(#gCy)" />
<ellipse cx="0" cy="0" rx="22" ry="13.8" transform="translate(604.3,501.4) rotate(35)" fill="url(#gCy)" />
</g>
<clipPath id="clipL1"><ellipse cx="0" cy="0" rx="22" ry="13.8" transform="translate(469.6,501.2) rotate(-35)"/></clipPath>
<clipPath id="clipL2"><ellipse cx="0" cy="0" rx="22" ry="13.8" transform="translate(604.3,501.4) rotate(35)"/></clipPath>
<circle cx="480.6" cy="514.6" r="13" fill="#1c5f6c" opacity="0.42" clip-path="url(#clipL1)"/>
<circle cx="593.4" cy="514.6" r="13" fill="#1c5f6c" opacity="0.42" clip-path="url(#clipL2)"/>
<circle cx="485.3" cy="476.7" r="12.4" fill="url(#gCl)"/>
<circle cx="588.2" cy="476.7" r="12.4" fill="url(#gCl)"/>
<circle cx="536.8" cy="480.7" r="12.4" fill="url(#gCl)"/>
<circle cx="536.8" cy="508.2" r="13" fill="url(#gPb)"/>
<path d="M536.9 544.6L524.55 540" stroke="#6a2cae" stroke-width="3.2"/>
<path d="M524.55 540L512.2 535.4" stroke="#ecd088" stroke-width="3.2"/>
<path d="M536.9 544.6L549.3 540.15" stroke="#6a2cae" stroke-width="3.2"/>
<path d="M549.3 540.15L561.7 535.7" stroke="#ecd088" stroke-width="3.2"/>
<path d="M536.9 544.6L536.9 559.9" stroke="#6a2cae" stroke-width="3.2"/>
<path d="M536.9 559.9L536.9 575.2" stroke="#ecd088" stroke-width="3.2"/>
<circle cx="512.2" cy="535.4" r="8.6" fill="url(#gO)"/>
<circle cx="561.7" cy="535.7" r="8.6" fill="url(#gO)"/>
<circle cx="536.9" cy="575.2" r="8.6" fill="url(#gO)"/>
<circle cx="536.9" cy="544.6" r="6" fill="url(#gRe)"/>
<g opacity="0.9">
<ellipse cx="0" cy="0" rx="16.8" ry="11.6" transform="translate(536.8,491.6) rotate(0)" fill="url(#gYe)" />
</g>
<g opacity="0.92">
<ellipse cx="0" cy="0" rx="15.6" ry="16" transform="translate(495.2,532.2) rotate(-20)" fill="url(#gYe)" />
<ellipse cx="0" cy="0" rx="15.6" ry="16" transform="translate(578.4,532.2) rotate(20)" fill="url(#gYe)" />
</g>
<g opacity="0.94">
<path d="M536.8 522.2 C531 516.8 519 516.4 512 520.6 C504.8 525.400 503.6 540 508.6 546.4 C503.4 551.600 503.8 563 510.6 567.4 C518.6 572 530.6 569.6 536.800 561.4 C543 569.6 555 572 563 567.4 C569.800 563 570.200 551.600 565 546.4 C570 540 568.800 525.400 561.600 520.6 C554.600 516.4 542.600 516.8 536.800 522.2 Z" fill="url(#gCy)"/>
</g>
<ellipse cx="0" cy="0" rx="7.2" ry="8.2" transform="translate(512.8,533.2) rotate(0)" fill="#62dfcf" opacity="0.92" />
<ellipse cx="0" cy="0" rx="4.4" ry="5.2" transform="translate(512.8,534.2) rotate(0)" fill="#8de6d2" opacity="0.92" />
<ellipse cx="0" cy="0" rx="1" ry="1" transform="translate(512.8,536) rotate(0)" fill="#cfc23a" />
<ellipse cx="0" cy="0" rx="7.2" ry="8.2" transform="translate(560.8,533.2) rotate(0)" fill="#62dfcf" opacity="0.92" />
<ellipse cx="0" cy="0" rx="4.4" ry="5.2" transform="translate(560.8,534.2) rotate(0)" fill="#8de6d2" opacity="0.92" />
<ellipse cx="0" cy="0" rx="1" ry="1" transform="translate(560.8,536) rotate(0)" fill="#cfc23a" />
<g opacity="0.88">
<path d="M536.8 532.2 C545 534.2 551.300 544 550.9 555.4 C550.500 565.4 544 570.6 536.800 570.6 C529.600 570.6 523.100 565.4 522.700 555.4 C522.300 544 528.600 534.2 536.800 532.200 Z" fill="url(#gYe)"/>
</g>
<path d="M536.8 544.3L528.5 541.8M536.8 544.3L545.1 541.8" stroke="#c4aa4a" stroke-width="2.2" opacity="0.85"/>
<path d="M536.8 546 L533.6 568 L540 568 Z" fill="#f6f070" opacity="0.7"/>
<path d="M536.8 547v20" stroke="#cdb64a" stroke-width="2.2" opacity="0.75"/>
<circle cx="536.8" cy="544.3" r="3.6" fill="#bfa050" opacity="0.95"/>
</g>
<path d="M530.2 532.8L449.26 428.93" stroke="#ff0000" stroke-width="2.6" fill="none"/>
<path d="M440.9 418.2L454.61 426.03L445.14 433.4z" fill="#ff0000"/>
<path d="M546.6 528.4L546.86 443.6" stroke="#ff0000" stroke-width="2.6" fill="none"/>
<path d="M546.9 430L552.86 444.62L540.86 444.58z" fill="#ff0000"/>
<path d="M528 542L455.65 535.51" stroke="#ff0000" stroke-width="2.6" fill="none"/>
<path d="M442.1 534.3L457.18 529.63L456.11 541.58z" fill="#ff0000"/>
<text x="444.6" y="483.9" font-size="27" text-anchor="start" fill="#ff0000" stroke="#ff0000" stroke-width="0.35" xml:space="preserve"><tspan font-style="italic">J'''</tspan></text>
<text x="551.5" y="474.6" font-size="27" text-anchor="start" fill="#ff0000" stroke="#ff0000" stroke-width="0.35" xml:space="preserve"><tspan font-style="italic">J''</tspan></text>
<text x="464.5" y="562.4" font-size="27" text-anchor="start" fill="#ff0000" stroke="#ff0000" stroke-width="0.35" xml:space="preserve"><tspan font-style="italic">J'</tspan></text>
<text x="656.4" y="451.8" font-size="21.3" text-anchor="start" fill="#53555c"  stroke="#53555c" stroke-width="0.3" xml:space="preserve"><tspan>Pb</tspan></text>
<text x="658" y="485.6" font-size="21.3" text-anchor="start" fill="#1fe000"  stroke="#1fe000" stroke-width="0.3" xml:space="preserve"><tspan>Cl</tspan></text>
<text x="650" y="528.4" font-size="21.3" text-anchor="start" fill="#4a148c"  stroke="#4a148c" stroke-width="0.3" xml:space="preserve"><tspan>Re</tspan></text>
<text x="656.5" y="572.6" font-size="21.3" text-anchor="start" fill="#f7c565"  stroke="#f7c565" stroke-width="0.3" xml:space="preserve"><tspan>O</tspan></text>
<path d="M391.7 623.3L391.7 593.4" stroke="#000" stroke-width="1.65" fill="none"/>
<path d="M391.7 587.4L395.9 598L391.7 596.3L387.5 598z" fill="#000"/>
<path d="M391 622.6L421.1 622.6" stroke="#000" stroke-width="1.65" fill="none"/>
<path d="M427.1 622.6L416.5 626.8L418.2 622.6L416.5 618.4z" fill="#000"/>
<text x="392.1" y="582.2" font-size="18.8" text-anchor="middle" fill="#000"  stroke="#000" stroke-width="0.3" xml:space="preserve"><tspan font-style="italic">b</tspan></text>
<text x="432.1" y="627.2" font-size="18.8" text-anchor="start" fill="#000"  stroke="#000" stroke-width="0.3" xml:space="preserve"><tspan font-style="italic">c</tspan></text>
<text x="379" y="337.5" font-size="26.5" text-anchor="start" fill="#000" font-weight="bold"  xml:space="preserve"><tspan>e</tspan></text>
<text x="537.2" y="665.8" font-size="21.3" text-anchor="middle" fill="#000"  stroke="#000" stroke-width="0.3" xml:space="preserve"><tspan>Ba</tspan><tspan font-size="14.48" dy="3.41">3</tspan><tspan dy="-3.41">ReO</tspan><tspan font-size="14.48" dy="3.41">5</tspan><tspan dy="-3.41">Cl</tspan><tspan font-size="14.48" dy="3.41">2</tspan></text>
<circle cx="476.5" cy="715.8" r="10.4" fill="url(#gBa)"/>
<circle cx="536.9" cy="702" r="10.4" fill="url(#gBa)"/>
<circle cx="597" cy="715.8" r="10.4" fill="url(#gBa)"/>
<circle cx="434" cy="778" r="10.4" fill="url(#gBa)"/>
<circle cx="494" cy="764.4" r="10.4" fill="url(#gBa)"/>
<circle cx="579.2" cy="764.4" r="10.4" fill="url(#gBa)"/>
<circle cx="639" cy="777.8" r="10.4" fill="url(#gBa)"/>
<path d="M434 737.4L434 721.9" stroke="#6a2cae" stroke-width="3.2"/>
<path d="M434 721.9L434 706.4" stroke="#ecd088" stroke-width="3.2"/>
<path d="M434 737.4L422.1 742.3" stroke="#6a2cae" stroke-width="3.2"/>
<path d="M422.1 742.3L410.2 747.2" stroke="#ecd088" stroke-width="3.2"/>
<path d="M434 737.4L445.7 742.3" stroke="#6a2cae" stroke-width="3.2"/>
<path d="M445.7 742.3L457.4 747.2" stroke="#ecd088" stroke-width="3.2"/>
<circle cx="434" cy="706.4" r="8.3" fill="url(#gO)"/>
<circle cx="410.2" cy="747.2" r="8.3" fill="url(#gO)"/>
<circle cx="457.4" cy="747.2" r="8.3" fill="url(#gO)"/>
<circle cx="434" cy="737.4" r="6" fill="url(#gRe)"/>
<path d="M639.2 737.4L639.2 721.9" stroke="#6a2cae" stroke-width="3.2"/>
<path d="M639.2 721.9L639.2 706.4" stroke="#ecd088" stroke-width="3.2"/>
<path d="M639.2 737.4L627.3 742.3" stroke="#6a2cae" stroke-width="3.2"/>
<path d="M627.3 742.3L615.4 747.2" stroke="#ecd088" stroke-width="3.2"/>
<path d="M639.2 737.4L650.9 742.3" stroke="#6a2cae" stroke-width="3.2"/>
<path d="M650.9 742.3L662.6 747.2" stroke="#ecd088" stroke-width="3.2"/>
<circle cx="639.2" cy="706.4" r="8.3" fill="url(#gO)"/>
<circle cx="615.4" cy="747.2" r="8.3" fill="url(#gO)"/>
<circle cx="662.6" cy="747.2" r="8.3" fill="url(#gO)"/>
<circle cx="639.2" cy="737.4" r="6" fill="url(#gRe)"/>
<path d="M536.6 742.6L524.8 737.9" stroke="#6a2cae" stroke-width="3.2"/>
<path d="M524.8 737.9L513 733.2" stroke="#ecd088" stroke-width="3.2"/>
<path d="M536.6 742.6L548.4 737.9" stroke="#6a2cae" stroke-width="3.2"/>
<path d="M548.4 737.9L560.2 733.2" stroke="#ecd088" stroke-width="3.2"/>
<path d="M536.6 742.6L536.6 758.1" stroke="#6a2cae" stroke-width="3.2"/>
<path d="M536.6 758.1L536.6 773.6" stroke="#ecd088" stroke-width="3.2"/>
<circle cx="513" cy="733.2" r="8.3" fill="url(#gO)"/>
<circle cx="560.2" cy="733.2" r="8.3" fill="url(#gO)"/>
<circle cx="536.6" cy="773.6" r="8.3" fill="url(#gO)"/>
<circle cx="536.6" cy="742.6" r="6" fill="url(#gRe)"/>
<circle cx="434" cy="801.2" r="12" fill="url(#gCl)"/>
<circle cx="485.2" cy="802.2" r="12" fill="url(#gCl)"/>
<circle cx="536.6" cy="803.5" r="12" fill="url(#gCl)"/>
<circle cx="588" cy="802.2" r="12" fill="url(#gCl)"/>
<circle cx="639.7" cy="801" r="12" fill="url(#gCl)"/>
<circle cx="434" cy="903.4" r="10.4" fill="url(#gBa)"/>
<circle cx="494.1" cy="889.7" r="10.4" fill="url(#gBa)"/>
<circle cx="579" cy="889.7" r="10.4" fill="url(#gBa)"/>
<circle cx="639" cy="903.4" r="10.4" fill="url(#gBa)"/>
<circle cx="476.4" cy="840.7" r="10.4" fill="url(#gBa)"/>
<circle cx="597" cy="840.7" r="10.4" fill="url(#gBa)"/>
<circle cx="536.8" cy="827.2" r="10.4" fill="url(#gBa)"/>
<path d="M434 862.8L434 847.3" stroke="#6a2cae" stroke-width="3.2"/>
<path d="M434 847.3L434 831.8" stroke="#ecd088" stroke-width="3.2"/>
<path d="M434 862.8L422.1 867.7" stroke="#6a2cae" stroke-width="3.2"/>
<path d="M422.1 867.7L410.2 872.6" stroke="#ecd088" stroke-width="3.2"/>
<path d="M434 862.8L445.7 867.7" stroke="#6a2cae" stroke-width="3.2"/>
<path d="M445.7 867.7L457.4 872.6" stroke="#ecd088" stroke-width="3.2"/>
<circle cx="434" cy="831.8" r="8.3" fill="url(#gO)"/>
<circle cx="410.2" cy="872.6" r="8.3" fill="url(#gO)"/>
<circle cx="457.4" cy="872.6" r="8.3" fill="url(#gO)"/>
<circle cx="434" cy="862.8" r="6" fill="url(#gRe)"/>
<path d="M639.2 862.8L639.2 847.3" stroke="#6a2cae" stroke-width="3.2"/>
<path d="M639.2 847.3L639.2 831.8" stroke="#ecd088" stroke-width="3.2"/>
<path d="M639.2 862.8L627.3 867.7" stroke="#6a2cae" stroke-width="3.2"/>
<path d="M627.3 867.7L615.4 872.6" stroke="#ecd088" stroke-width="3.2"/>
<path d="M639.2 862.8L650.9 867.7" stroke="#6a2cae" stroke-width="3.2"/>
<path d="M650.9 867.7L662.6 872.6" stroke="#ecd088" stroke-width="3.2"/>
<circle cx="639.2" cy="831.8" r="8.3" fill="url(#gO)"/>
<circle cx="615.4" cy="872.6" r="8.3" fill="url(#gO)"/>
<circle cx="662.6" cy="872.6" r="8.3" fill="url(#gO)"/>
<circle cx="639.2" cy="862.8" r="6" fill="url(#gRe)"/>
<path d="M536.8 867.7L525 863" stroke="#6a2cae" stroke-width="3.2"/>
<path d="M525 863L513.2 858.3" stroke="#ecd088" stroke-width="3.2"/>
<path d="M536.8 867.7L548.6 863" stroke="#6a2cae" stroke-width="3.2"/>
<path d="M548.6 863L560.4 858.3" stroke="#ecd088" stroke-width="3.2"/>
<path d="M536.8 867.7L536.8 883.2" stroke="#6a2cae" stroke-width="3.2"/>
<path d="M536.8 883.2L536.8 898.7" stroke="#ecd088" stroke-width="3.2"/>
<circle cx="513.2" cy="858.3" r="8.3" fill="url(#gO)"/>
<circle cx="560.4" cy="858.3" r="8.3" fill="url(#gO)"/>
<circle cx="536.8" cy="898.7" r="8.3" fill="url(#gO)"/>
<circle cx="536.8" cy="867.7" r="6" fill="url(#gRe)"/>
<g opacity="0.9">
<ellipse cx="0" cy="0" rx="8" ry="6.8" transform="translate(460.9,832.3) rotate(-30)" fill="url(#gCy)" />
<ellipse cx="0" cy="0" rx="8" ry="6.8" transform="translate(612.5,832.3) rotate(30)" fill="url(#gCy)" />
<ellipse cx="0" cy="0" rx="8.6" ry="4.2" transform="translate(536.8,835.2) rotate(0)" fill="url(#gCy)" />
</g>
<g opacity="0.85">
<ellipse cx="0" cy="0" rx="5" ry="7.8" transform="translate(485.1,834.1) rotate(15)" fill="url(#gYe)" />
<ellipse cx="0" cy="0" rx="7.8" ry="6.6" transform="translate(474.3,851.9) rotate(-30)" fill="url(#gYe)" />
<ellipse cx="0" cy="0" rx="5" ry="7.8" transform="translate(588.3,834.1) rotate(-15)" fill="url(#gYe)" />
<ellipse cx="0" cy="0" rx="7.8" ry="6.6" transform="translate(599.1,851.9) rotate(30)" fill="url(#gYe)" />
</g>
<ellipse cx="0" cy="0" rx="10" ry="7.2" transform="translate(536.8,813.2) rotate(0)" fill="url(#gYe)" opacity="0.93" />
<g opacity="0.97">
<ellipse cx="0" cy="0" rx="12.2" ry="15.8" transform="translate(500.3,856.8) rotate(0)" fill="url(#gCy2)" />
<ellipse cx="0" cy="0" rx="12.2" ry="15.8" transform="translate(573.1,856.8) rotate(0)" fill="url(#gCy2)" />
</g>
<ellipse cx="0" cy="0" rx="4.6" ry="8.4" transform="translate(500,853.8) rotate(18)" fill="#7df9ff" opacity="0.7" />
<ellipse cx="0" cy="0" rx="4.6" ry="8.4" transform="translate(573.4,853.8) rotate(-18)" fill="#7df9ff" opacity="0.7" />
<g opacity="0.9">
<path d="M536.8 846.4 C530 840.8 518.6 840.2 512 845 C504.6 850.600 504.2 864.4 509.4 870 C504.2 875.400 504.200 887 511 891 C519 895.600 531 893.400 536.800 885.4 C542.600 893.400 554.600 895.600 562.600 891 C569.400 887 569.400 875.400 564.200 870 C569.400 864.4 569 850.600 561.600 845 C555 840.2 543.600 840.800 536.800 846.4 Z" fill="url(#gYe)"/>
</g>
<circle cx="514.1" cy="857.4" r="7.0" fill="url(#gOy)" opacity="0.9"/>
<circle cx="559.5" cy="857.4" r="7.0" fill="url(#gOy)" opacity="0.9"/>
<g opacity="0.9">
<path d="M536.8 862.4 C541 862.4 546 863.8 549 868 C552 873 551.4 882 549.4 887 C547 892.6 542 894.8 536.800 894.8 C531.600 894.8 526.600 892.6 524.200 887 C522.200 882 521.600 873 524.600 868 C527.600 863.8 532.600 862.4 536.800 862.4 Z" fill="url(#gCy)"/>
</g>
<path d="M536.8 870 L533.4 892 L540.2 892 Z" fill="#55dcf0" opacity="0.7"/>
<path d="M536.8 870v22" stroke="#2a9ad8" stroke-width="2.0" opacity="0.7"/>
<path d="M536.8 868.5L529 865.5M536.8 868.5L544.6 865.5" stroke="#2a8ad0" stroke-width="2.0" opacity="0.7"/>
<circle cx="536.8" cy="868.5" r="3.7" fill="#2a8ad8"/>
<path d="M529.1 856.8L448.83 757.09" stroke="#ff0000" stroke-width="2.6" fill="none"/>
<path d="M440.3 746.5L454.13 754.11L444.78 761.64z" fill="#ff0000"/>
<path d="M546.6 855.7L546.86 766" stroke="#ff0000" stroke-width="2.6" fill="none"/>
<path d="M546.9 752.4L552.86 767.02L540.86 766.98z" fill="#ff0000"/>
<path d="M528 866.6L455.69 863.4" stroke="#ff0000" stroke-width="2.6" fill="none"/>
<path d="M442.1 862.8L456.95 857.45L456.42 869.44z" fill="#ff0000"/>
<text x="446" y="811.8" font-size="27" text-anchor="start" fill="#ff0000" stroke="#ff0000" stroke-width="0.35" xml:space="preserve"><tspan font-style="italic">J'''</tspan></text>
<text x="551.5" y="799" font-size="27" text-anchor="start" fill="#ff0000" stroke="#ff0000" stroke-width="0.35" xml:space="preserve"><tspan font-style="italic">J''</tspan></text>
<text x="468.2" y="887.6" font-size="27" text-anchor="start" fill="#ff0000" stroke="#ff0000" stroke-width="0.35" xml:space="preserve"><tspan font-style="italic">J'</tspan></text>
<text x="657" y="781.6" font-size="21.3" text-anchor="start" fill="#6cc4f4"  stroke="#6cc4f4" stroke-width="0.3" xml:space="preserve"><tspan>Ba</tspan></text>
<text x="658" y="814.5" font-size="21.3" text-anchor="start" fill="#1fe000"  stroke="#1fe000" stroke-width="0.3" xml:space="preserve"><tspan>Cl</tspan></text>
<text x="650" y="858.2" font-size="21.3" text-anchor="start" fill="#4a148c"  stroke="#4a148c" stroke-width="0.3" xml:space="preserve"><tspan>Re</tspan></text>
<text x="656.5" y="900.5" font-size="21.3" text-anchor="start" fill="#f7c565"  stroke="#f7c565" stroke-width="0.3" xml:space="preserve"><tspan>O</tspan></text>
<path d="M391.7 952.3L391.7 922.4" stroke="#000" stroke-width="1.65" fill="none"/>
<path d="M391.7 916.4L395.9 927L391.7 925.3L387.5 927z" fill="#000"/>
<path d="M391 951.6L421.1 951.6" stroke="#000" stroke-width="1.65" fill="none"/>
<path d="M427.1 951.6L416.5 955.8L418.2 951.6L416.5 947.4z" fill="#000"/>
<text x="392.1" y="911.2" font-size="18.8" text-anchor="middle" fill="#000"  stroke="#000" stroke-width="0.3" xml:space="preserve"><tspan font-style="italic">b</tspan></text>
<text x="432.1" y="956.2" font-size="18.8" text-anchor="start" fill="#000"  stroke="#000" stroke-width="0.3" xml:space="preserve"><tspan font-style="italic">c</tspan></text>
</g>
</svg>
</body></html>
